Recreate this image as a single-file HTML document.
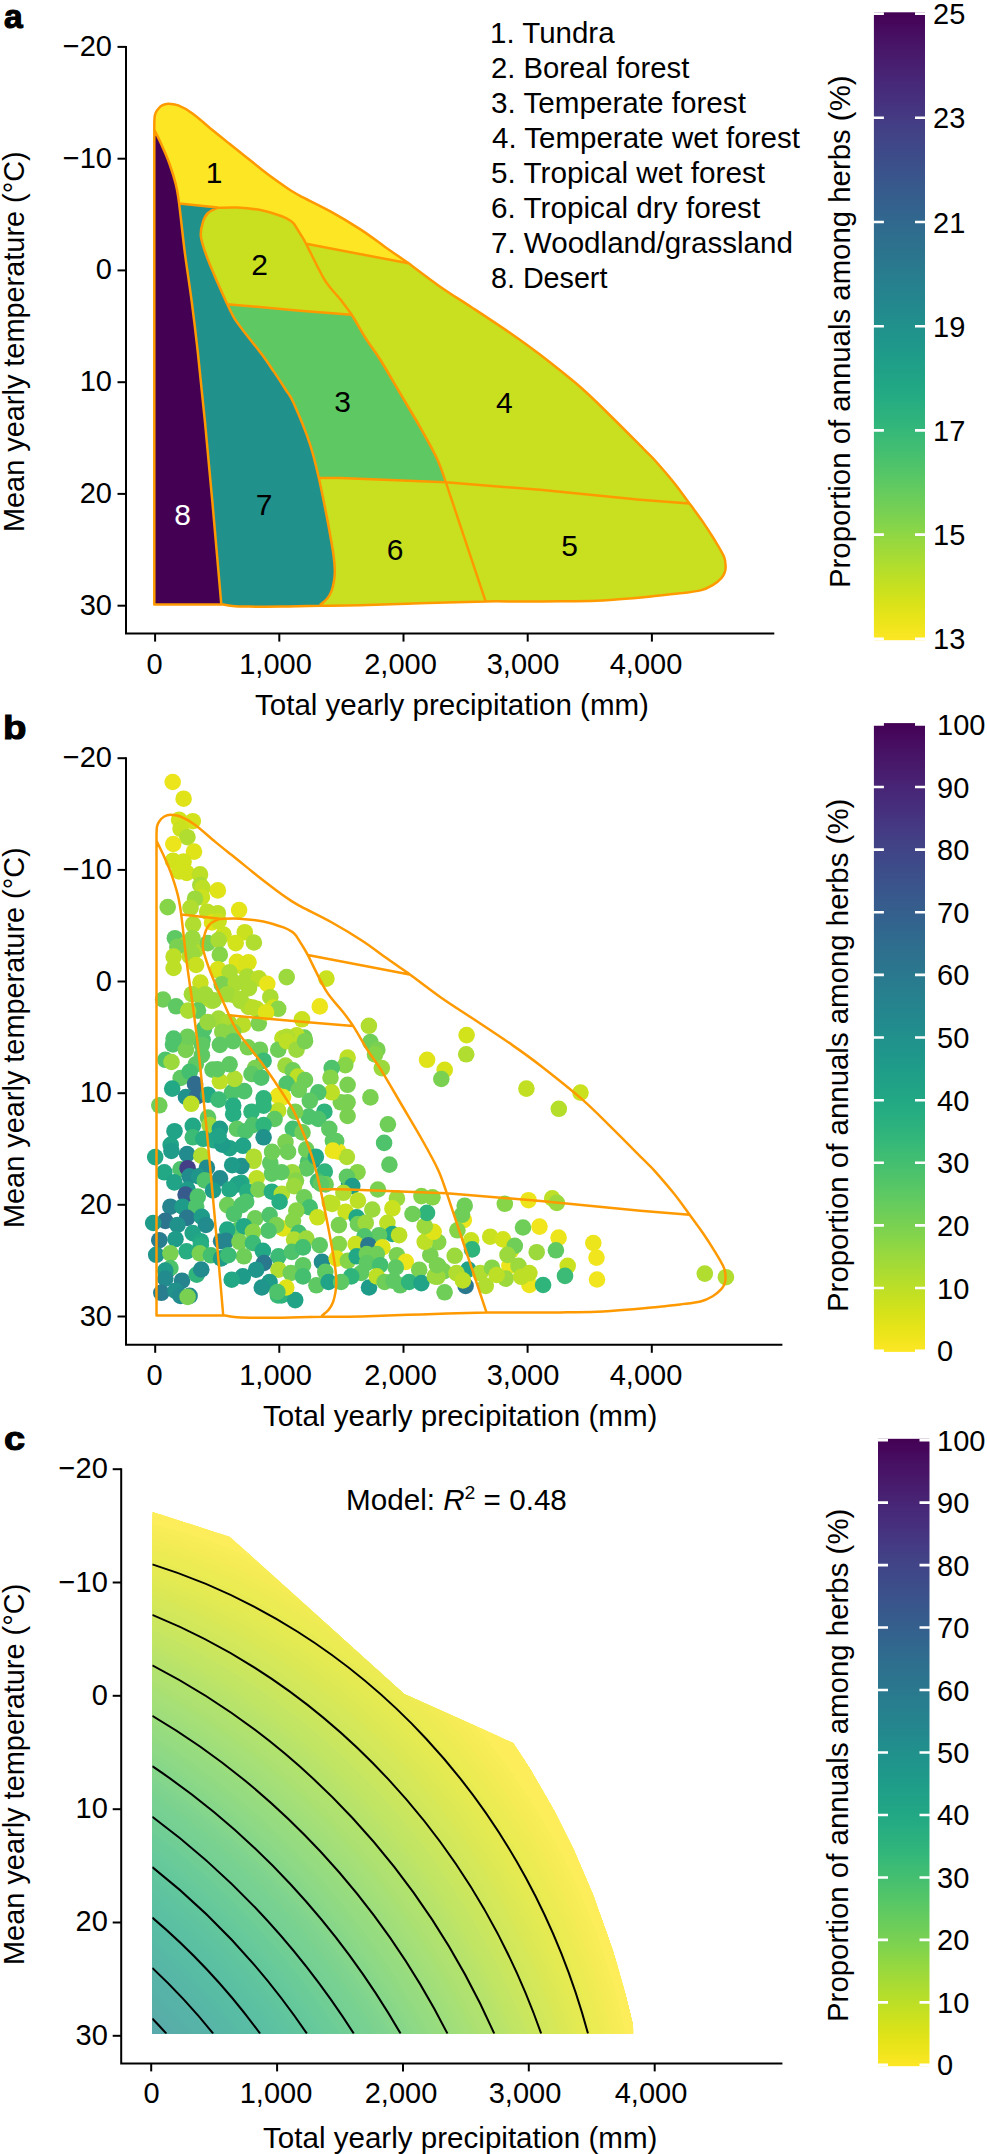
<!DOCTYPE html><html><head><meta charset="utf-8"><style>html,body{margin:0;padding:0;background:#fff;overflow:hidden;}svg{display:block}text{font-family:'Liberation Sans',sans-serif;fill:#000}</style></head><body>
<svg width="987" height="2154" viewBox="0 0 987 2154">
<rect width="987" height="2154" fill="#fff"/>
<g id="pa">
<path d="M154.3 123C154.4 121.8 154.4 117.6 154.8 115.5C155.2 113.4 155.8 112.1 157 110.4C158.2 108.7 160.2 106.5 162.1 105.4C164 104.3 165.5 103.7 168.2 103.7C170.9 103.7 174.2 103.8 178.3 105.4C182.4 107 186.7 109.3 192.5 113.5C198.3 117.7 206.9 125.5 213 130.5C219.1 135.5 223.8 139.2 229.2 143.5C234.6 147.8 240 152.2 245.4 156.5C250.8 160.8 256.2 165.2 261.6 169.4C267 173.6 273.1 178.2 277.8 181.6C282.5 185 286.3 187.6 290 190C293.7 192.4 293.3 192.2 300 195.8C306.7 199.4 320.3 205.8 330.4 211.4C340.5 217 351.7 223.7 360.8 229.6C369.9 235.5 377.2 241.3 385.1 246.9C393 252.5 404.5 260.4 408.4 263.1C413.6 267 429.2 279 439.8 286.4C450.4 293.8 460.2 299.8 472.2 307.7C484.2 315.6 500.2 326.1 511.6 334C523 341.9 529 346.1 540.6 355.1C552.2 364.1 569.5 377.7 581.4 388C593.2 398.3 601.4 406.9 611.7 417C622 427.1 636.1 441.4 643.3 448.6C650.4 455.8 649.5 454.3 654.6 460C659.7 465.7 668.2 475.5 674 482.7C679.8 489.9 684.5 496.8 689.4 503.4C694.3 510 699 516.3 703.2 522.4C707.4 528.5 711.1 534.3 714.6 540C718.1 545.7 722.2 552.3 724 556.7C725.8 561.1 725.5 563.9 725.6 566.5C725.7 569.1 725.5 570.2 724.8 572.1C724.1 574 723.6 575.6 721.6 577.8C719.6 580 716.2 583 712.7 585.1C709.2 587.2 706 589 700.5 590.4C695 591.8 687.2 592.4 680 593.3C672.8 594.2 665.1 595 657.3 595.8C649.5 596.6 643.1 597.4 633 598.2C622.9 599 608.7 600.2 596.5 600.7C584.3 601.2 572.8 601.2 560 601.3C547.2 601.4 532.4 601.5 520 601.5C507.6 601.5 502.3 601.1 485.6 601.4C468.9 601.7 440.9 602.6 420 603.3C399.1 603.9 376.7 604.9 360 605.3C343.3 605.7 326.7 605.6 320 605.7C313.5 605.9 292.9 606.5 281 606.6C269.1 606.8 256.7 606.7 248.6 606.6C240.5 606.5 236.6 606.4 232.4 606C228.2 605.6 225 604.8 223.5 604.5L221.3 604.4 L154.3 604.4 Z" fill="#c8e020"/><path d="M154.3 123C154.4 121.8 154.4 117.6 154.8 115.5C155.2 113.4 155.8 112.1 157 110.4C158.2 108.7 160.2 106.5 162.1 105.4C164 104.3 165.5 103.7 168.2 103.7C170.9 103.7 174.2 103.8 178.3 105.4C182.4 107 186.7 109.3 192.5 113.5C198.3 117.7 206.9 125.5 213 130.5C219.1 135.5 223.8 139.2 229.2 143.5C234.6 147.8 240 152.2 245.4 156.5C250.8 160.8 256.2 165.2 261.6 169.4C267 173.6 273.1 178.2 277.8 181.6C282.5 185 286.3 187.6 290 190C293.7 192.4 293.3 192.2 300 195.8C306.7 199.4 320.3 205.8 330.4 211.4C340.5 217 351.7 223.7 360.8 229.6C369.9 235.5 377.2 241.3 385.1 246.9C393 252.5 404.5 260.4 408.4 263.1L306.1 243.8C305.1 242.1 302 236.8 300.1 233.6C298.2 230.4 295.4 226 294.5 224.5C293.8 223.9 292.6 222.2 290.5 220.8C288.4 219.4 286.6 218.1 281.8 216.3C277 214.6 269 211.8 261.6 210.3C254.2 208.9 244.6 208 237.3 207.6C230 207.2 221.1 207.8 217.8 207.8L179.2 203.5C178.4 198.8 177.3 190.5 175.7 184C174.1 177.5 171.6 169.8 169.2 163C166.8 156.2 163.5 149.1 161 143.5C158.5 137.9 155.4 132 154.3 129.7Z" fill="#fde725"/><path d="M154.3 129.7C155.4 132 158.5 137.9 161 143.5C163.5 149.1 166.8 156.2 169.2 163C171.6 169.8 174.1 177.5 175.7 184C177.3 190.5 177.4 190.7 178.9 201.8C180.4 212.9 182.5 234.2 184.6 250.8C186.7 267.4 189.5 284.5 191.7 301.4C193.9 318.3 195.6 332.2 197.8 352.1C200 372.1 202.5 396.1 204.9 421.1C207.3 446.1 209.7 471.6 212.4 502.1C215.1 532.6 219.8 587.4 221.3 604.4L154.3 604.4 Z" fill="#440154"/><path d="M179.2 203.5 L217.8 207.6C216.2 208.5 210.5 210.6 208 213C205.5 215.4 204.2 218.1 203 222C201.8 225.9 200.2 230.8 200.9 236.6C201.6 242.4 204.2 249.5 206.9 256.9C209.6 264.3 213.6 273.4 217 281.2C220.4 289 225.4 300 227.1 303.8C228.4 306.4 231.8 314.4 235.2 319.7C238.6 325 243 330.2 247.4 335.9C251.8 341.6 257.2 348.2 261.6 354.1C266 360 269.6 365.4 273.7 371.4C277.8 377.4 282.6 384.8 285.9 390C289.2 395.2 289.5 393.9 293.5 402.8C297.5 411.7 305.5 430.8 309.7 443.3C313.9 455.8 315.8 464.6 318.8 477.8C321.8 491 325.4 509.5 327.9 522.4C330.3 535.3 332.4 547.1 333.5 555C334.6 562.9 334.7 565.7 334.8 570C334.9 574.3 334.6 577.5 334 581C333.4 584.5 332.7 588.1 331.5 591.1C330.3 594.1 328.9 596.5 327 598.8C325.1 601.1 321.2 604 320 605C313.5 605.3 292.9 606.3 281 606.6C269.1 606.9 256.7 606.7 248.6 606.6C240.5 606.5 236.6 606.4 232.4 606C228.2 605.6 225 604.8 223.5 604.5L221.3 604.4C219.8 587.4 215.1 532.6 212.4 502.1C209.7 471.6 207.3 446.1 204.9 421.1C202.5 396.1 200 372.1 197.8 352.1C195.6 332.2 193.9 318.3 191.7 301.4C189.5 284.5 186.7 267.4 184.6 250.8C182.5 234.2 179.8 210 178.9 201.8Z" fill="#21918c"/><path d="M227.1 304.2 L300 310.7 L351.7 314.8C354.2 319 362.1 332.6 366.9 340.1C371.7 347.6 374.9 350.9 380.5 360C386.1 369.1 394 382.9 400.8 394.4C407.6 405.9 415 418.1 421.1 428.9C427.2 439.7 433.2 450.4 437.3 459.3C441.4 468.2 444.4 478.4 445.8 482.2L340 478.1 L318.8 477.8C317.3 472.1 313.9 455.8 309.7 443.3C305.5 430.8 297.5 411.7 293.5 402.8C289.5 393.9 289.2 395.2 285.9 390C282.6 384.8 277.8 377.4 273.7 371.4C269.6 365.4 266 360 261.6 354.1C257.2 348.2 251.8 341.6 247.4 335.9C243 330.2 238.6 325 235.2 319.7C231.8 314.4 228.4 306.4 227.1 303.8Z" fill="#5ec962"/>
<path d="M154.3 123C154.4 121.8 154.4 117.6 154.8 115.5C155.2 113.4 155.8 112.1 157 110.4C158.2 108.7 160.2 106.5 162.1 105.4C164 104.3 165.5 103.7 168.2 103.7C170.9 103.7 174.2 103.8 178.3 105.4C182.4 107 186.7 109.3 192.5 113.5C198.3 117.7 206.9 125.5 213 130.5C219.1 135.5 223.8 139.2 229.2 143.5C234.6 147.8 240 152.2 245.4 156.5C250.8 160.8 256.2 165.2 261.6 169.4C267 173.6 273.1 178.2 277.8 181.6C282.5 185 286.3 187.6 290 190C293.7 192.4 293.3 192.2 300 195.8C306.7 199.4 320.3 205.8 330.4 211.4C340.5 217 351.7 223.7 360.8 229.6C369.9 235.5 377.2 241.3 385.1 246.9C393 252.5 404.5 260.4 408.4 263.1C413.6 267 429.2 279 439.8 286.4C450.4 293.8 460.2 299.8 472.2 307.7C484.2 315.6 500.2 326.1 511.6 334C523 341.9 529 346.1 540.6 355.1C552.2 364.1 569.5 377.7 581.4 388C593.2 398.3 601.4 406.9 611.7 417C622 427.1 636.1 441.4 643.3 448.6C650.4 455.8 649.5 454.3 654.6 460C659.7 465.7 668.2 475.5 674 482.7C679.8 489.9 684.5 496.8 689.4 503.4C694.3 510 699 516.3 703.2 522.4C707.4 528.5 711.1 534.3 714.6 540C718.1 545.7 722.2 552.3 724 556.7C725.8 561.1 725.5 563.9 725.6 566.5C725.7 569.1 725.5 570.2 724.8 572.1C724.1 574 723.6 575.6 721.6 577.8C719.6 580 716.2 583 712.7 585.1C709.2 587.2 706 589 700.5 590.4C695 591.8 687.2 592.4 680 593.3C672.8 594.2 665.1 595 657.3 595.8C649.5 596.6 643.1 597.4 633 598.2C622.9 599 608.7 600.2 596.5 600.7C584.3 601.2 572.8 601.2 560 601.3C547.2 601.4 532.4 601.5 520 601.5C507.6 601.5 502.3 601.1 485.6 601.4C468.9 601.7 440.9 602.6 420 603.3C399.1 603.9 376.7 604.9 360 605.3C343.3 605.7 326.7 605.6 320 605.7C313.5 605.9 292.9 606.5 281 606.6C269.1 606.8 256.7 606.7 248.6 606.6C240.5 606.5 236.6 606.4 232.4 606C228.2 605.6 225 604.8 223.5 604.5L221.3 604.4 L154.3 604.4 Z M154.3 129.7C155.4 132 158.5 137.9 161 143.5C163.5 149.1 166.8 156.2 169.2 163C171.6 169.8 174.1 177.5 175.7 184C177.3 190.5 177.4 190.7 178.9 201.8C180.4 212.9 182.5 234.2 184.6 250.8C186.7 267.4 189.5 284.5 191.7 301.4C193.9 318.3 195.6 332.2 197.8 352.1C200 372.1 202.5 396.1 204.9 421.1C207.3 446.1 209.7 471.6 212.4 502.1C215.1 532.6 219.8 587.4 221.3 604.4 M179.2 203.5 L217.8 207.6 M217.8 207.8C221.1 207.8 230 207.2 237.3 207.6C244.6 208 254.2 208.9 261.6 210.3C269 211.8 277 214.6 281.8 216.3C286.6 218.1 288.4 219.4 290.5 220.8C292.6 222.2 293.8 223.9 294.5 224.5C295.4 226 298.2 230.4 300.1 233.6C302 236.8 302.1 236.2 306.1 243.8C310.1 251.4 318.6 270 324.3 279.3C330 288.6 335.9 293.7 340.5 299.6C345.1 305.5 347.3 308.1 351.7 314.8C356.1 321.6 362.1 332.6 366.9 340.1C371.7 347.6 374.9 350.9 380.5 360C386.1 369.1 394 382.9 400.8 394.4C407.6 405.9 415 418.1 421.1 428.9C427.2 439.7 433.2 450.4 437.3 459.3C441.4 468.2 444.4 478.4 445.8 482.2 M445.8 482.2 L485.6 601.3 M217.8 207.6C216.2 208.5 210.5 210.6 208 213C205.5 215.4 204.2 218.1 203 222C201.8 225.9 200.2 230.8 200.9 236.6C201.6 242.4 204.2 249.5 206.9 256.9C209.6 264.3 213.6 273.4 217 281.2C220.4 289 225.4 300 227.1 303.8C228.4 306.4 231.8 314.4 235.2 319.7C238.6 325 243 330.2 247.4 335.9C251.8 341.6 257.2 348.2 261.6 354.1C266 360 269.6 365.4 273.7 371.4C277.8 377.4 282.6 384.8 285.9 390C289.2 395.2 289.5 393.9 293.5 402.8C297.5 411.7 305.5 430.8 309.7 443.3C313.9 455.8 315.8 464.6 318.8 477.8C321.8 491 325.4 509.5 327.9 522.4C330.3 535.3 332.4 547.1 333.5 555C334.6 562.9 334.7 565.7 334.8 570C334.9 574.3 334.6 577.5 334 581C333.4 584.5 332.7 588.1 331.5 591.1C330.3 594.1 328.9 596.5 327 598.8C325.1 601.1 321.2 604 320 605 M306.1 243.8 L408.4 263.3 M227.1 304.2 L300 310.7 L351.7 314.8 M318.8 477.8 L340 478.1 L445.8 482.2 L540 489.8 L640 499.7 L689.4 503.6" fill="none" stroke="#ff9900" stroke-width="2.5" stroke-linejoin="round"/>
</g>
<text x="214" y="183.2" font-size="30" text-anchor="middle" >1</text>
<text x="259.6" y="275" font-size="30" text-anchor="middle" >2</text>
<text x="342.6" y="412.4" font-size="30" text-anchor="middle" >3</text>
<text x="504.4" y="413" font-size="30" text-anchor="middle" >4</text>
<text x="569.6" y="556.1" font-size="30" text-anchor="middle" >5</text>
<text x="395" y="560" font-size="30" text-anchor="middle" >6</text>
<text x="264.1" y="515.3" font-size="30" text-anchor="middle" >7</text>
<text x="182.5" y="524.8" font-size="30" text-anchor="middle" style="fill:#fff">8</text>
<g><circle cx="202" cy="998.8" r="8.3" fill="#a2da37"/><circle cx="212" cy="1000.8" r="8.3" fill="#b0dd2f"/><circle cx="232.3" cy="994.7" r="8.3" fill="#b0dd2f"/><circle cx="240.4" cy="1000.8" r="8.3" fill="#a2da37"/><circle cx="248.5" cy="1006.9" r="8.3" fill="#b0dd2f"/><circle cx="256.6" cy="1008.9" r="8.3" fill="#bddf26"/><circle cx="220.1" cy="1021" r="8.3" fill="#9bd93c"/><circle cx="228.2" cy="1023.1" r="8.3" fill="#a2da37"/><circle cx="224.2" cy="988.6" r="8.3" fill="#b0dd2f"/><circle cx="242.4" cy="966.3" r="8.3" fill="#cae11f"/><circle cx="248.5" cy="962.3" r="8.3" fill="#dfe318"/><circle cx="195.8" cy="950.1" r="8.3" fill="#b0dd2f"/><circle cx="189.7" cy="956.2" r="8.3" fill="#bddf26"/><circle cx="218.1" cy="970.4" r="8.3" fill="#cae11f"/><circle cx="230.2" cy="978.5" r="8.3" fill="#b0dd2f"/><circle cx="463.8" cy="1220.2" r="8.3" fill="#ece51b"/><circle cx="471.1" cy="1240.3" r="8.3" fill="#cae11f"/><circle cx="511.2" cy="1250.3" r="8.3" fill="#dfe318"/><circle cx="465.6" cy="1285.9" r="8.3" fill="#2a788e"/><circle cx="529.4" cy="1285" r="8.3" fill="#ece51b"/><circle cx="509.4" cy="1265.8" r="8.3" fill="#ece51b"/><circle cx="172.7" cy="782" r="8.3" fill="#ece51b"/><circle cx="183.6" cy="798.7" r="8.3" fill="#dfe318"/><circle cx="179.1" cy="819.7" r="8.3" fill="#d2e21b"/><circle cx="192.8" cy="821.2" r="8.3" fill="#d2e21b"/><circle cx="180.6" cy="828.8" r="8.3" fill="#cae11f"/><circle cx="187.4" cy="837.2" r="8.3" fill="#b0dd2f"/><circle cx="173.3" cy="844" r="8.3" fill="#ece51b"/><circle cx="194" cy="851.6" r="8.3" fill="#dfe318"/><circle cx="173" cy="860.7" r="8.3" fill="#d2e21b"/><circle cx="183.6" cy="861.5" r="8.3" fill="#d2e21b"/><circle cx="179.1" cy="871.4" r="8.3" fill="#d2e21b"/><circle cx="186.7" cy="872.9" r="8.3" fill="#d2e21b"/><circle cx="200" cy="874.4" r="8.3" fill="#bddf26"/><circle cx="200.3" cy="885" r="8.3" fill="#a8db34"/><circle cx="202.6" cy="888.1" r="8.3" fill="#bddf26"/><circle cx="217.8" cy="890.4" r="8.3" fill="#dfe318"/><circle cx="201.9" cy="897.2" r="8.3" fill="#cae11f"/><circle cx="195" cy="898.7" r="8.3" fill="#9bd93c"/><circle cx="167.7" cy="907.1" r="8.3" fill="#86d549"/><circle cx="190.5" cy="907.9" r="8.3" fill="#b0dd2f"/><circle cx="207.2" cy="911.7" r="8.3" fill="#bddf26"/><circle cx="217.8" cy="913.2" r="8.3" fill="#bddf26"/><circle cx="239.1" cy="910.1" r="8.3" fill="#e5e419"/><circle cx="163.1" cy="999.5" r="8.3" fill="#6ece58"/><circle cx="202.6" cy="1039.8" r="8.3" fill="#4ec36b"/><circle cx="186.7" cy="1040.6" r="8.3" fill="#7ad151"/><circle cx="173" cy="1044.4" r="8.3" fill="#4ec36b"/><circle cx="282.4" cy="1038.3" r="8.3" fill="#bddf26"/><circle cx="326.4" cy="978.6" r="8.3" fill="#cae11f"/><circle cx="319.8" cy="1006.4" r="8.3" fill="#ece51b"/><circle cx="302" cy="1019.3" r="8.3" fill="#cae11f"/><circle cx="304.3" cy="1037.5" r="8.3" fill="#6ece58"/><circle cx="296.7" cy="1035.3" r="8.3" fill="#bddf26"/><circle cx="285.8" cy="1038.3" r="8.3" fill="#cae11f"/><circle cx="368.9" cy="1025.8" r="8.3" fill="#b0dd2f"/><circle cx="370.4" cy="1042.1" r="8.3" fill="#6ece58"/><circle cx="377.3" cy="1049.7" r="8.3" fill="#7ad151"/><circle cx="466.6" cy="1035.1" r="8.3" fill="#d2e21b"/><circle cx="466.2" cy="1054.3" r="8.3" fill="#b0dd2f"/><circle cx="427.1" cy="1059.8" r="8.3" fill="#dfe318"/><circle cx="444.7" cy="1069.9" r="8.3" fill="#d8e219"/><circle cx="441.3" cy="1079" r="8.3" fill="#7ad151"/><circle cx="526.4" cy="1088.6" r="8.3" fill="#c2df23"/><circle cx="580.5" cy="1092.6" r="8.3" fill="#cae11f"/><circle cx="558.8" cy="1108.8" r="8.3" fill="#b5de2b"/><circle cx="185.9" cy="1049.9" r="8.3" fill="#7ad151"/><circle cx="201.9" cy="1044.6" r="8.3" fill="#5ec962"/><circle cx="165.4" cy="1059.8" r="8.3" fill="#4ec36b"/><circle cx="171.5" cy="1062" r="8.3" fill="#9bd93c"/><circle cx="195.8" cy="1064.3" r="8.3" fill="#5ec962"/><circle cx="201.9" cy="1055.2" r="8.3" fill="#5ec962"/><circle cx="212.5" cy="1069.6" r="8.3" fill="#5ec962"/><circle cx="180.6" cy="1078" r="8.3" fill="#5ec962"/><circle cx="189.7" cy="1071.9" r="8.3" fill="#44bf70"/><circle cx="195" cy="1084.1" r="8.3" fill="#2f6c8e"/><circle cx="172.2" cy="1088.6" r="8.3" fill="#22a884"/><circle cx="185.9" cy="1097" r="8.3" fill="#21918c"/><circle cx="197.3" cy="1096.2" r="8.3" fill="#2f6c8e"/><circle cx="191.2" cy="1103.8" r="8.3" fill="#bddf26"/><circle cx="159.3" cy="1105.3" r="8.3" fill="#6ece58"/><circle cx="208" cy="1094.7" r="8.3" fill="#22a884"/><circle cx="208" cy="1117.5" r="8.3" fill="#5ec962"/><circle cx="209.5" cy="1125.1" r="8.3" fill="#9bd93c"/><circle cx="192.8" cy="1125.9" r="8.3" fill="#22a884"/><circle cx="174.5" cy="1131.2" r="8.3" fill="#20a386"/><circle cx="192.8" cy="1137.3" r="8.3" fill="#3bbb75"/><circle cx="203.4" cy="1138.8" r="8.3" fill="#26ad81"/><circle cx="214" cy="1140.3" r="8.3" fill="#22a884"/><circle cx="170.7" cy="1144.9" r="8.3" fill="#20a386"/><circle cx="253.5" cy="1160.8" r="8.3" fill="#b0dd2f"/><circle cx="241.4" cy="1166.1" r="8.3" fill="#21918c"/><circle cx="270.3" cy="1163.1" r="8.3" fill="#5ec962"/><circle cx="271.8" cy="1173.7" r="8.3" fill="#5ec962"/><circle cx="256.6" cy="1178.3" r="8.3" fill="#bddf26"/><circle cx="241.4" cy="1182.9" r="8.3" fill="#22a884"/><circle cx="375" cy="1054.4" r="8.3" fill="#86d549"/><circle cx="381.8" cy="1068.1" r="8.3" fill="#9bd93c"/><circle cx="347.6" cy="1057.5" r="8.3" fill="#bddf26"/><circle cx="345.3" cy="1065.1" r="8.3" fill="#86d549"/><circle cx="347.6" cy="1084.8" r="8.3" fill="#7ad151"/><circle cx="340.8" cy="1102.3" r="8.3" fill="#7ad151"/><circle cx="347.6" cy="1102.3" r="8.3" fill="#7ad151"/><circle cx="347.6" cy="1116" r="8.3" fill="#7ad151"/><circle cx="370.4" cy="1097.4" r="8.3" fill="#7ad151"/><circle cx="387.9" cy="1124.3" r="8.3" fill="#6ece58"/><circle cx="384.1" cy="1142.9" r="8.3" fill="#4ec36b"/><circle cx="389.4" cy="1164.6" r="8.3" fill="#5ec962"/><circle cx="336.2" cy="1141.1" r="8.3" fill="#5ec962"/><circle cx="338.5" cy="1151.7" r="8.3" fill="#ece51b"/><circle cx="346.9" cy="1157" r="8.3" fill="#b0dd2f"/><circle cx="312.7" cy="1160.8" r="8.3" fill="#21918c"/><circle cx="308.1" cy="1161.6" r="8.3" fill="#4ec36b"/><circle cx="306.6" cy="1168.4" r="8.3" fill="#5ec962"/><circle cx="324.8" cy="1171.5" r="8.3" fill="#2fb47c"/><circle cx="292.2" cy="1172.2" r="8.3" fill="#9bd93c"/><circle cx="296" cy="1180.6" r="8.3" fill="#86d549"/><circle cx="281.5" cy="1172.2" r="8.3" fill="#5ec962"/><circle cx="318" cy="1181.3" r="8.3" fill="#44bf70"/><circle cx="325.6" cy="1184.4" r="8.3" fill="#6ece58"/><circle cx="357.5" cy="1172.2" r="8.3" fill="#86d549"/><circle cx="349.1" cy="1183.6" r="8.3" fill="#21918c"/><circle cx="346.9" cy="1176.8" r="8.3" fill="#5ec962"/><circle cx="464.7" cy="1205.7" r="8.3" fill="#6ece58"/><circle cx="462" cy="1214.8" r="8.3" fill="#6ece58"/><circle cx="457.4" cy="1230.3" r="8.3" fill="#86d549"/><circle cx="504.8" cy="1203.8" r="8.3" fill="#86d549"/><circle cx="528.5" cy="1200.2" r="8.3" fill="#ece51b"/><circle cx="552.2" cy="1198.4" r="8.3" fill="#bddf26"/><circle cx="556.8" cy="1202.9" r="8.3" fill="#9bd93c"/><circle cx="523" cy="1227.5" r="8.3" fill="#6ece58"/><circle cx="539.5" cy="1226.6" r="8.3" fill="#f1e51d"/><circle cx="558.6" cy="1237.6" r="8.3" fill="#ece51b"/><circle cx="593.3" cy="1243" r="8.3" fill="#ece51b"/><circle cx="596.5" cy="1257.6" r="8.3" fill="#f1e51d"/><circle cx="597" cy="1279.5" r="8.3" fill="#f1e51d"/><circle cx="438.2" cy="1242.1" r="8.3" fill="#86d549"/><circle cx="472" cy="1249.4" r="8.3" fill="#2fb47c"/><circle cx="490.2" cy="1236.7" r="8.3" fill="#cae11f"/><circle cx="503" cy="1239.4" r="8.3" fill="#d2e21b"/><circle cx="514.8" cy="1245.8" r="8.3" fill="#6ece58"/><circle cx="507.5" cy="1254.9" r="8.3" fill="#9bd93c"/><circle cx="536.7" cy="1252.2" r="8.3" fill="#9bd93c"/><circle cx="555.9" cy="1250.3" r="8.3" fill="#5ec962"/><circle cx="567.7" cy="1265.8" r="8.3" fill="#cae11f"/><circle cx="565" cy="1275.9" r="8.3" fill="#3bbb75"/><circle cx="454.7" cy="1255.8" r="8.3" fill="#9bd93c"/><circle cx="468.3" cy="1269.5" r="8.3" fill="#20a386"/><circle cx="438.2" cy="1265.8" r="8.3" fill="#6ece58"/><circle cx="443.7" cy="1271.3" r="8.3" fill="#7ad151"/><circle cx="437.3" cy="1276.8" r="8.3" fill="#9bd93c"/><circle cx="444.6" cy="1292.3" r="8.3" fill="#6ece58"/><circle cx="456.5" cy="1273.1" r="8.3" fill="#b0dd2f"/><circle cx="462.9" cy="1280.4" r="8.3" fill="#bddf26"/><circle cx="480.2" cy="1273.1" r="8.3" fill="#b0dd2f"/><circle cx="485.7" cy="1285.9" r="8.3" fill="#b0dd2f"/><circle cx="492" cy="1267.7" r="8.3" fill="#86d549"/><circle cx="505.7" cy="1278.6" r="8.3" fill="#9bd93c"/><circle cx="518.5" cy="1265.8" r="8.3" fill="#9bd93c"/><circle cx="529.4" cy="1273.1" r="8.3" fill="#bddf26"/><circle cx="521.2" cy="1276.8" r="8.3" fill="#bddf26"/><circle cx="543.1" cy="1285" r="8.3" fill="#2fb47c"/><circle cx="496.6" cy="1275" r="8.3" fill="#bddf26"/><circle cx="704.8" cy="1273.6" r="8.3" fill="#b0dd2f"/><circle cx="725.9" cy="1277.2" r="8.3" fill="#b0dd2f"/><circle cx="277.9" cy="1295.5" r="8.3" fill="#3bbb75"/><circle cx="321" cy="1183.8" r="8.3" fill="#5ec962"/><circle cx="281.5" cy="1295.5" r="8.3" fill="#2fb47c"/><circle cx="295.2" cy="1300.1" r="8.3" fill="#20a386"/><circle cx="193.1" cy="924.3" r="8.3" fill="#b0dd2f"/><circle cx="212" cy="922.4" r="8.3" fill="#dfe318"/><circle cx="218.6" cy="921.2" r="8.3" fill="#cae11f"/><circle cx="244.8" cy="932.2" r="8.3" fill="#cae11f"/><circle cx="223.5" cy="934.6" r="8.3" fill="#cae11f"/><circle cx="235.7" cy="943.1" r="8.3" fill="#d2e21b"/><circle cx="253.9" cy="942.5" r="8.3" fill="#b0dd2f"/><circle cx="174.9" cy="938.2" r="8.3" fill="#5ec962"/><circle cx="192.5" cy="938.2" r="8.3" fill="#9bd93c"/><circle cx="207.7" cy="943.1" r="8.3" fill="#7ad151"/><circle cx="218.6" cy="940.1" r="8.3" fill="#a8db34"/><circle cx="185.8" cy="944.3" r="8.3" fill="#9bd93c"/><circle cx="177.3" cy="946.7" r="8.3" fill="#7ad151"/><circle cx="191.9" cy="953.4" r="8.3" fill="#9bd93c"/><circle cx="219.8" cy="954.7" r="8.3" fill="#86d549"/><circle cx="173.6" cy="956.5" r="8.3" fill="#bddf26"/><circle cx="173.6" cy="968" r="8.3" fill="#bddf26"/><circle cx="196.1" cy="965" r="8.3" fill="#c8e020"/><circle cx="236.9" cy="961.9" r="8.3" fill="#dfe318"/><circle cx="246" cy="963.8" r="8.3" fill="#dae319"/><circle cx="218" cy="969.2" r="8.3" fill="#dae319"/><circle cx="229.6" cy="972.3" r="8.3" fill="#aadc32"/><circle cx="247.2" cy="976.5" r="8.3" fill="#aadc32"/><circle cx="258.8" cy="978.4" r="8.3" fill="#bade28"/><circle cx="267.3" cy="983.8" r="8.3" fill="#eae51a"/><circle cx="286.7" cy="977.1" r="8.3" fill="#9bd93c"/><circle cx="200.4" cy="982.6" r="8.3" fill="#c8e020"/><circle cx="221.7" cy="984.4" r="8.3" fill="#7cd250"/><circle cx="235.7" cy="983.2" r="8.3" fill="#aadc32"/><circle cx="249" cy="988.1" r="8.3" fill="#aadc32"/><circle cx="270.3" cy="997.2" r="8.3" fill="#aadc32"/><circle cx="191.9" cy="994.2" r="8.3" fill="#a2da37"/><circle cx="205.3" cy="994.2" r="8.3" fill="#a2da37"/><circle cx="213.8" cy="1000.2" r="8.3" fill="#a2da37"/><circle cx="227.1" cy="994.2" r="8.3" fill="#a2da37"/><circle cx="240.5" cy="999" r="8.3" fill="#aadc32"/><circle cx="252.7" cy="1007.5" r="8.3" fill="#bade28"/><circle cx="273.3" cy="1007.5" r="8.3" fill="#d2e21b"/><circle cx="278.2" cy="1008.8" r="8.3" fill="#8bd646"/><circle cx="176.1" cy="1006.3" r="8.3" fill="#5ec962"/><circle cx="198" cy="1010.6" r="8.3" fill="#60ca60"/><circle cx="188.2" cy="1010.6" r="8.3" fill="#aadc32"/><circle cx="218.6" cy="1018.5" r="8.3" fill="#a2da37"/><circle cx="228.4" cy="1022.1" r="8.3" fill="#aadc32"/><circle cx="243" cy="1024.6" r="8.3" fill="#bade28"/><circle cx="258.8" cy="1023.3" r="8.3" fill="#7cd250"/><circle cx="266" cy="1012.4" r="8.3" fill="#dfe318"/><circle cx="204" cy="1028.8" r="8.3" fill="#4ec36b"/><circle cx="207.7" cy="1022.1" r="8.3" fill="#98d83e"/><circle cx="222.3" cy="1031.9" r="8.3" fill="#8bd646"/><circle cx="233.2" cy="1031.9" r="8.3" fill="#8bd646"/><circle cx="187.6" cy="1036.7" r="8.3" fill="#6ece58"/><circle cx="173.6" cy="1038.5" r="8.3" fill="#4ec36b"/><circle cx="286.7" cy="1036.7" r="8.3" fill="#b0dd2f"/><circle cx="155.2" cy="1157.1" r="8.3" fill="#22a884"/><circle cx="171.4" cy="1151" r="8.3" fill="#1e9c89"/><circle cx="187.1" cy="1154.1" r="8.3" fill="#228b8d"/><circle cx="201.3" cy="1155.6" r="8.3" fill="#b0dd2f"/><circle cx="180.5" cy="1169.3" r="8.3" fill="#4ec36b"/><circle cx="187.6" cy="1168.2" r="8.3" fill="#433e85"/><circle cx="206.9" cy="1167.7" r="8.3" fill="#228b8d"/><circle cx="164.3" cy="1172.3" r="8.3" fill="#22a884"/><circle cx="189.6" cy="1176.3" r="8.3" fill="#228b8d"/><circle cx="198.8" cy="1176.3" r="8.3" fill="#1f958b"/><circle cx="204.8" cy="1180.4" r="8.3" fill="#4ec36b"/><circle cx="220" cy="1178.4" r="8.3" fill="#228b8d"/><circle cx="174.4" cy="1182.4" r="8.3" fill="#20a386"/><circle cx="187.6" cy="1189.5" r="8.3" fill="#1e9c89"/><circle cx="185.6" cy="1194.6" r="8.3" fill="#375a8c"/><circle cx="213" cy="1190.5" r="8.3" fill="#1e9c89"/><circle cx="197.8" cy="1196.6" r="8.3" fill="#4ec36b"/><circle cx="232.2" cy="1165.2" r="8.3" fill="#1e9c89"/><circle cx="170.4" cy="1206.7" r="8.3" fill="#25848e"/><circle cx="182.6" cy="1206.7" r="8.3" fill="#1e9c89"/><circle cx="196.2" cy="1206.7" r="8.3" fill="#4ec36b"/><circle cx="165.3" cy="1220.9" r="8.3" fill="#2c738e"/><circle cx="153.2" cy="1223" r="8.3" fill="#1e9c89"/><circle cx="187.1" cy="1217.9" r="8.3" fill="#2a788e"/><circle cx="201.8" cy="1216.9" r="8.3" fill="#1e9c89"/><circle cx="205.9" cy="1225" r="8.3" fill="#228b8d"/><circle cx="177.5" cy="1225" r="8.3" fill="#21918c"/><circle cx="192.7" cy="1233.1" r="8.3" fill="#20a386"/><circle cx="175.5" cy="1239.2" r="8.3" fill="#1e9c89"/><circle cx="159.3" cy="1240.2" r="8.3" fill="#287d8e"/><circle cx="221.1" cy="1241.2" r="8.3" fill="#25848e"/><circle cx="200.8" cy="1241.2" r="8.3" fill="#22a884"/><circle cx="237.3" cy="1184.4" r="8.3" fill="#20a386"/><circle cx="156.2" cy="1254.8" r="8.3" fill="#1f958b"/><circle cx="170.4" cy="1253.3" r="8.3" fill="#7ad151"/><circle cx="186.6" cy="1251.3" r="8.3" fill="#26ad81"/><circle cx="200.8" cy="1245.2" r="8.3" fill="#26ad81"/><circle cx="199.8" cy="1253.3" r="8.3" fill="#7ad151"/><circle cx="210.9" cy="1255.3" r="8.3" fill="#44bf70"/><circle cx="221.1" cy="1258.4" r="8.3" fill="#1e9c89"/><circle cx="167.4" cy="1270.5" r="8.3" fill="#375a8c"/><circle cx="170.4" cy="1268" r="8.3" fill="#4ec36b"/><circle cx="165.3" cy="1270.5" r="8.3" fill="#1e9c89"/><circle cx="165.3" cy="1278.6" r="8.3" fill="#228b8d"/><circle cx="182" cy="1280.7" r="8.3" fill="#25848e"/><circle cx="196.7" cy="1274.6" r="8.3" fill="#2fb47c"/><circle cx="201.3" cy="1269.5" r="8.3" fill="#228b8d"/><circle cx="161.3" cy="1292.8" r="8.3" fill="#287d8e"/><circle cx="175.5" cy="1290.8" r="8.3" fill="#21918c"/><circle cx="189.6" cy="1295.9" r="8.3" fill="#228b8d"/><circle cx="180.5" cy="1295.9" r="8.3" fill="#228b8d"/><circle cx="187.6" cy="1296.9" r="8.3" fill="#7ad151"/><circle cx="229.5" cy="1189.5" r="8.3" fill="#22a884"/><circle cx="247.3" cy="1191.7" r="8.3" fill="#26ad81"/><circle cx="258.4" cy="1189.5" r="8.3" fill="#7ad151"/><circle cx="271.8" cy="1191.7" r="8.3" fill="#26ad81"/><circle cx="281.8" cy="1193.9" r="8.3" fill="#b0dd2f"/><circle cx="279.6" cy="1201.7" r="8.3" fill="#26ad81"/><circle cx="294.1" cy="1186.1" r="8.3" fill="#9bd93c"/><circle cx="246.2" cy="1201.7" r="8.3" fill="#4ec36b"/><circle cx="227.2" cy="1205.1" r="8.3" fill="#6ece58"/><circle cx="241.7" cy="1205.1" r="8.3" fill="#4ec36b"/><circle cx="304.1" cy="1197.3" r="8.3" fill="#6ece58"/><circle cx="309.7" cy="1207.3" r="8.3" fill="#44bf70"/><circle cx="329.8" cy="1202.8" r="8.3" fill="#bddf26"/><circle cx="296.3" cy="1210.6" r="8.3" fill="#86d549"/><circle cx="317.5" cy="1217.3" r="8.3" fill="#cae11f"/><circle cx="233.9" cy="1214" r="8.3" fill="#4ec36b"/><circle cx="255.1" cy="1218.4" r="8.3" fill="#6ece58"/><circle cx="269.6" cy="1215.1" r="8.3" fill="#4ec36b"/><circle cx="283" cy="1228.5" r="8.3" fill="#dfe318"/><circle cx="276.3" cy="1225.1" r="8.3" fill="#7ad151"/><circle cx="293" cy="1220.7" r="8.3" fill="#86d549"/><circle cx="298.6" cy="1232.9" r="8.3" fill="#44bf70"/><circle cx="268.5" cy="1230.7" r="8.3" fill="#4ec36b"/><circle cx="238.4" cy="1229.6" r="8.3" fill="#5ec962"/><circle cx="243.9" cy="1226.2" r="8.3" fill="#22a884"/><circle cx="252.9" cy="1231.8" r="8.3" fill="#86d549"/><circle cx="227.2" cy="1229.6" r="8.3" fill="#22a884"/><circle cx="226.1" cy="1240.7" r="8.3" fill="#25848e"/><circle cx="239.5" cy="1241.8" r="8.3" fill="#7ad151"/><circle cx="252.9" cy="1243" r="8.3" fill="#3bbb75"/><circle cx="294.1" cy="1239.6" r="8.3" fill="#b0dd2f"/><circle cx="306.4" cy="1238.5" r="8.3" fill="#9bd93c"/><circle cx="319.7" cy="1245.2" r="8.3" fill="#5ec962"/><circle cx="262.9" cy="1250.8" r="8.3" fill="#22a884"/><circle cx="278.5" cy="1256.3" r="8.3" fill="#3bbb75"/><circle cx="243.9" cy="1256.3" r="8.3" fill="#6ece58"/><circle cx="228.3" cy="1255.2" r="8.3" fill="#3bbb75"/><circle cx="291.9" cy="1251.9" r="8.3" fill="#4ec36b"/><circle cx="303" cy="1247.4" r="8.3" fill="#44bf70"/><circle cx="322" cy="1261.9" r="8.3" fill="#228b8d"/><circle cx="264" cy="1263" r="8.3" fill="#2a788e"/><circle cx="256.2" cy="1269.7" r="8.3" fill="#1f958b"/><circle cx="278.5" cy="1269.7" r="8.3" fill="#b0dd2f"/><circle cx="290.8" cy="1273" r="8.3" fill="#6ece58"/><circle cx="303" cy="1265.2" r="8.3" fill="#5ec962"/><circle cx="303" cy="1276.4" r="8.3" fill="#44bf70"/><circle cx="325.3" cy="1271.9" r="8.3" fill="#5ec962"/><circle cx="242.8" cy="1276.4" r="8.3" fill="#1e9c89"/><circle cx="231.7" cy="1279.7" r="8.3" fill="#22a884"/><circle cx="269.6" cy="1282" r="8.3" fill="#1e9c89"/><circle cx="261.8" cy="1287.5" r="8.3" fill="#1f958b"/><circle cx="286.3" cy="1287.5" r="8.3" fill="#dfe318"/><circle cx="277.4" cy="1292" r="8.3" fill="#4ec36b"/><circle cx="316.4" cy="1285.3" r="8.3" fill="#5ec962"/><circle cx="328.6" cy="1282" r="8.3" fill="#20a386"/><circle cx="352.3" cy="1186.1" r="8.3" fill="#1e9c89"/><circle cx="343.4" cy="1192.8" r="8.3" fill="#b0dd2f"/><circle cx="332.2" cy="1203.9" r="8.3" fill="#bddf26"/><circle cx="357.9" cy="1200.6" r="8.3" fill="#bddf26"/><circle cx="345.6" cy="1211.7" r="8.3" fill="#cae11f"/><circle cx="338.9" cy="1225.1" r="8.3" fill="#7ad151"/><circle cx="356.7" cy="1217.3" r="8.3" fill="#22a884"/><circle cx="357.9" cy="1224" r="8.3" fill="#6ece58"/><circle cx="365.7" cy="1222.9" r="8.3" fill="#9bd93c"/><circle cx="372.3" cy="1209.5" r="8.3" fill="#9bd93c"/><circle cx="377.9" cy="1189.5" r="8.3" fill="#7ad151"/><circle cx="396.9" cy="1198.4" r="8.3" fill="#9bd93c"/><circle cx="392.4" cy="1208.4" r="8.3" fill="#cae11f"/><circle cx="387.4" cy="1222.9" r="8.3" fill="#bddf26"/><circle cx="392.4" cy="1234" r="8.3" fill="#22a884"/><circle cx="399.1" cy="1235.2" r="8.3" fill="#bddf26"/><circle cx="379" cy="1235.2" r="8.3" fill="#5ec962"/><circle cx="364.5" cy="1236.3" r="8.3" fill="#4ec36b"/><circle cx="355.6" cy="1244.1" r="8.3" fill="#cae11f"/><circle cx="368.4" cy="1245.2" r="8.3" fill="#2a788e"/><circle cx="382.4" cy="1247.4" r="8.3" fill="#dfe318"/><circle cx="338.9" cy="1244.1" r="8.3" fill="#86d549"/><circle cx="336.7" cy="1258.6" r="8.3" fill="#dfe318"/><circle cx="347.8" cy="1260.8" r="8.3" fill="#86d549"/><circle cx="356.7" cy="1256.3" r="8.3" fill="#22a884"/><circle cx="366.8" cy="1254.1" r="8.3" fill="#6ece58"/><circle cx="376.8" cy="1254.1" r="8.3" fill="#6ece58"/><circle cx="366.8" cy="1263" r="8.3" fill="#5ec962"/><circle cx="380.2" cy="1265.2" r="8.3" fill="#44bf70"/><circle cx="396.9" cy="1255.2" r="8.3" fill="#7ad151"/><circle cx="405.8" cy="1261.9" r="8.3" fill="#ece51b"/><circle cx="395.8" cy="1267.5" r="8.3" fill="#5ec962"/><circle cx="419.2" cy="1269.7" r="8.3" fill="#7ad151"/><circle cx="430.3" cy="1255.2" r="8.3" fill="#7ad151"/><circle cx="424.7" cy="1241.8" r="8.3" fill="#bddf26"/><circle cx="433.6" cy="1231.8" r="8.3" fill="#dfe318"/><circle cx="424.7" cy="1226.2" r="8.3" fill="#9bd93c"/><circle cx="427" cy="1212.9" r="8.3" fill="#2fb47c"/><circle cx="412.5" cy="1214" r="8.3" fill="#6ece58"/><circle cx="421.4" cy="1196.1" r="8.3" fill="#86d549"/><circle cx="432.5" cy="1197.3" r="8.3" fill="#86d549"/><circle cx="361.2" cy="1273" r="8.3" fill="#5ec962"/><circle cx="351.2" cy="1276.4" r="8.3" fill="#2fb47c"/><circle cx="341.1" cy="1282" r="8.3" fill="#5ec962"/><circle cx="369" cy="1287.5" r="8.3" fill="#1e9c89"/><circle cx="376.8" cy="1276.4" r="8.3" fill="#bddf26"/><circle cx="384.6" cy="1282" r="8.3" fill="#6ece58"/><circle cx="393.5" cy="1280.8" r="8.3" fill="#5ec962"/><circle cx="400.2" cy="1285.3" r="8.3" fill="#5ec962"/><circle cx="409.1" cy="1282" r="8.3" fill="#2fb47c"/><circle cx="421.4" cy="1283.1" r="8.3" fill="#20a386"/><circle cx="434.8" cy="1276.4" r="8.3" fill="#9bd93c"/><circle cx="437" cy="1265.2" r="8.3" fill="#7ad151"/><circle cx="219.9" cy="1044.9" r="8.3" fill="#5ec962"/><circle cx="233.2" cy="1041.2" r="8.3" fill="#5ec962"/><circle cx="247.8" cy="1047.3" r="8.3" fill="#7ad151"/><circle cx="260" cy="1049.7" r="8.3" fill="#6ece58"/><circle cx="263.6" cy="1060.7" r="8.3" fill="#3bbb75"/><circle cx="255.1" cy="1068" r="8.3" fill="#7ad151"/><circle cx="251.5" cy="1074" r="8.3" fill="#5ec962"/><circle cx="261.2" cy="1077.7" r="8.3" fill="#4ec36b"/><circle cx="278.2" cy="1049.7" r="8.3" fill="#6ece58"/><circle cx="286.7" cy="1041.2" r="8.3" fill="#bddf26"/><circle cx="296.5" cy="1049.7" r="8.3" fill="#9bd93c"/><circle cx="305" cy="1041.2" r="8.3" fill="#7ad151"/><circle cx="285.5" cy="1065.5" r="8.3" fill="#9bd93c"/><circle cx="292.8" cy="1070.4" r="8.3" fill="#6ece58"/><circle cx="297.7" cy="1076.5" r="8.3" fill="#bddf26"/><circle cx="305" cy="1080.1" r="8.3" fill="#6ece58"/><circle cx="286.7" cy="1083.8" r="8.3" fill="#4ec36b"/><circle cx="298.9" cy="1089.8" r="8.3" fill="#6ece58"/><circle cx="331.7" cy="1068" r="8.3" fill="#4ec36b"/><circle cx="330.5" cy="1077.7" r="8.3" fill="#86d549"/><circle cx="331.7" cy="1092.3" r="8.3" fill="#bddf26"/><circle cx="318.3" cy="1092.3" r="8.3" fill="#4ec36b"/><circle cx="309.8" cy="1100.8" r="8.3" fill="#5ec962"/><circle cx="324.4" cy="1111.7" r="8.3" fill="#2fb47c"/><circle cx="318.3" cy="1119" r="8.3" fill="#4ec36b"/><circle cx="308.6" cy="1116.6" r="8.3" fill="#4ec36b"/><circle cx="295.2" cy="1111.7" r="8.3" fill="#7ad151"/><circle cx="278.2" cy="1095.9" r="8.3" fill="#ece51b"/><circle cx="283.1" cy="1097.1" r="8.3" fill="#ece51b"/><circle cx="278.2" cy="1110.5" r="8.3" fill="#bddf26"/><circle cx="274.6" cy="1119" r="8.3" fill="#5ec962"/><circle cx="263.6" cy="1098.4" r="8.3" fill="#2fb47c"/><circle cx="263.6" cy="1105.7" r="8.3" fill="#2fb47c"/><circle cx="251.5" cy="1111.7" r="8.3" fill="#2fb47c"/><circle cx="244.2" cy="1091.1" r="8.3" fill="#4ec36b"/><circle cx="232" cy="1092.3" r="8.3" fill="#4ec36b"/><circle cx="234.5" cy="1078.9" r="8.3" fill="#b0dd2f"/><circle cx="219.9" cy="1081.3" r="8.3" fill="#bddf26"/><circle cx="229.6" cy="1064.3" r="8.3" fill="#5ec962"/><circle cx="217.4" cy="1069.2" r="8.3" fill="#5ec962"/><circle cx="218.6" cy="1099.6" r="8.3" fill="#3bbb75"/><circle cx="233.2" cy="1105.7" r="8.3" fill="#26ad81"/><circle cx="233.2" cy="1114.2" r="8.3" fill="#26ad81"/><circle cx="236.9" cy="1128.8" r="8.3" fill="#5ec962"/><circle cx="245.4" cy="1131.2" r="8.3" fill="#4ec36b"/><circle cx="252.7" cy="1125.1" r="8.3" fill="#4ec36b"/><circle cx="263.6" cy="1125.1" r="8.3" fill="#2fb47c"/><circle cx="263.6" cy="1137.3" r="8.3" fill="#21918c"/><circle cx="219.9" cy="1128.8" r="8.3" fill="#1e9c89"/><circle cx="292.8" cy="1128.8" r="8.3" fill="#44bf70"/><circle cx="302.5" cy="1132.4" r="8.3" fill="#6ece58"/><circle cx="285.5" cy="1142.1" r="8.3" fill="#7ad151"/><circle cx="272.1" cy="1151.9" r="8.3" fill="#6ece58"/><circle cx="288" cy="1151.9" r="8.3" fill="#6ece58"/><circle cx="306.2" cy="1149.4" r="8.3" fill="#6ece58"/><circle cx="315.9" cy="1156.7" r="8.3" fill="#22a884"/><circle cx="329.3" cy="1128.8" r="8.3" fill="#5ec962"/><circle cx="332.9" cy="1140.9" r="8.3" fill="#5ec962"/><circle cx="332.9" cy="1150.6" r="8.3" fill="#ece51b"/><circle cx="229.6" cy="1148.2" r="8.3" fill="#20a386"/><circle cx="243" cy="1145.8" r="8.3" fill="#20a386"/><circle cx="222.3" cy="1144.6" r="8.3" fill="#1e9c89"/><circle cx="253.9" cy="1156.7" r="8.3" fill="#b0dd2f"/><circle cx="218.6" cy="1136" r="8.3" fill="#20a386"/></g>
<g transform="matrix(0.996,0,0,1,2.82,711.1)"><path d="M154.3 123C154.4 121.8 154.4 117.6 154.8 115.5C155.2 113.4 155.8 112.1 157 110.4C158.2 108.7 160.2 106.5 162.1 105.4C164 104.3 165.5 103.7 168.2 103.7C170.9 103.7 174.2 103.8 178.3 105.4C182.4 107 186.7 109.3 192.5 113.5C198.3 117.7 206.9 125.5 213 130.5C219.1 135.5 223.8 139.2 229.2 143.5C234.6 147.8 240 152.2 245.4 156.5C250.8 160.8 256.2 165.2 261.6 169.4C267 173.6 273.1 178.2 277.8 181.6C282.5 185 286.3 187.6 290 190C293.7 192.4 293.3 192.2 300 195.8C306.7 199.4 320.3 205.8 330.4 211.4C340.5 217 351.7 223.7 360.8 229.6C369.9 235.5 377.2 241.3 385.1 246.9C393 252.5 404.5 260.4 408.4 263.1C413.6 267 429.2 279 439.8 286.4C450.4 293.8 460.2 299.8 472.2 307.7C484.2 315.6 500.2 326.1 511.6 334C523 341.9 529 346.1 540.6 355.1C552.2 364.1 569.5 377.7 581.4 388C593.2 398.3 601.4 406.9 611.7 417C622 427.1 636.1 441.4 643.3 448.6C650.4 455.8 649.5 454.3 654.6 460C659.7 465.7 668.2 475.5 674 482.7C679.8 489.9 684.5 496.8 689.4 503.4C694.3 510 699 516.3 703.2 522.4C707.4 528.5 711.1 534.3 714.6 540C718.1 545.7 722.2 552.3 724 556.7C725.8 561.1 725.5 563.9 725.6 566.5C725.7 569.1 725.5 570.2 724.8 572.1C724.1 574 723.6 575.6 721.6 577.8C719.6 580 716.2 583 712.7 585.1C709.2 587.2 706 589 700.5 590.4C695 591.8 687.2 592.4 680 593.3C672.8 594.2 665.1 595 657.3 595.8C649.5 596.6 643.1 597.4 633 598.2C622.9 599 608.7 600.2 596.5 600.7C584.3 601.2 572.8 601.2 560 601.3C547.2 601.4 532.4 601.5 520 601.5C507.6 601.5 502.3 601.1 485.6 601.4C468.9 601.7 440.9 602.6 420 603.3C399.1 603.9 376.7 604.9 360 605.3C343.3 605.7 326.7 605.6 320 605.7C313.5 605.9 292.9 606.5 281 606.6C269.1 606.8 256.7 606.7 248.6 606.6C240.5 606.5 236.6 606.4 232.4 606C228.2 605.6 225 604.8 223.5 604.5L221.3 604.4 L154.3 604.4 Z M154.3 129.7C155.4 132 158.5 137.9 161 143.5C163.5 149.1 166.8 156.2 169.2 163C171.6 169.8 174.1 177.5 175.7 184C177.3 190.5 177.4 190.7 178.9 201.8C180.4 212.9 182.5 234.2 184.6 250.8C186.7 267.4 189.5 284.5 191.7 301.4C193.9 318.3 195.6 332.2 197.8 352.1C200 372.1 202.5 396.1 204.9 421.1C207.3 446.1 209.7 471.6 212.4 502.1C215.1 532.6 219.8 587.4 221.3 604.4 M179.2 203.5 L217.8 207.6 M217.8 207.8C221.1 207.8 230 207.2 237.3 207.6C244.6 208 254.2 208.9 261.6 210.3C269 211.8 277 214.6 281.8 216.3C286.6 218.1 288.4 219.4 290.5 220.8C292.6 222.2 293.8 223.9 294.5 224.5C295.4 226 298.2 230.4 300.1 233.6C302 236.8 302.1 236.2 306.1 243.8C310.1 251.4 318.6 270 324.3 279.3C330 288.6 335.9 293.7 340.5 299.6C345.1 305.5 347.3 308.1 351.7 314.8C356.1 321.6 362.1 332.6 366.9 340.1C371.7 347.6 374.9 350.9 380.5 360C386.1 369.1 394 382.9 400.8 394.4C407.6 405.9 415 418.1 421.1 428.9C427.2 439.7 433.2 450.4 437.3 459.3C441.4 468.2 444.4 478.4 445.8 482.2 M445.8 482.2 L485.6 601.3 M217.8 207.6C216.2 208.5 210.5 210.6 208 213C205.5 215.4 204.2 218.1 203 222C201.8 225.9 200.2 230.8 200.9 236.6C201.6 242.4 204.2 249.5 206.9 256.9C209.6 264.3 213.6 273.4 217 281.2C220.4 289 225.4 300 227.1 303.8C228.4 306.4 231.8 314.4 235.2 319.7C238.6 325 243 330.2 247.4 335.9C251.8 341.6 257.2 348.2 261.6 354.1C266 360 269.6 365.4 273.7 371.4C277.8 377.4 282.6 384.8 285.9 390C289.2 395.2 289.5 393.9 293.5 402.8C297.5 411.7 305.5 430.8 309.7 443.3C313.9 455.8 315.8 464.6 318.8 477.8C321.8 491 325.4 509.5 327.9 522.4C330.3 535.3 332.4 547.1 333.5 555C334.6 562.9 334.7 565.7 334.8 570C334.9 574.3 334.6 577.5 334 581C333.4 584.5 332.7 588.1 331.5 591.1C330.3 594.1 328.9 596.5 327 598.8C325.1 601.1 321.2 604 320 605 M306.1 243.8 L408.4 263.3 M227.1 304.2 L300 310.7 L351.7 314.8 M318.8 477.8 L340 478.1 L445.8 482.2 L540 489.8 L640 499.7 L689.4 503.6" fill="none" stroke="#ff9900" stroke-width="2.5" stroke-linejoin="round"/></g>
<path d="M126 45.9 V633.6 H774.3" fill="none" stroke="#000" stroke-width="2"/><path d="M117.5 46.9 H126" stroke="#000" stroke-width="2"/><path d="M117.5 158.7 H126" stroke="#000" stroke-width="2"/><path d="M117.5 270.4 H126" stroke="#000" stroke-width="2"/><path d="M117.5 382.2 H126" stroke="#000" stroke-width="2"/><path d="M117.5 493.9 H126" stroke="#000" stroke-width="2"/><path d="M117.5 605.7 H126" stroke="#000" stroke-width="2"/><path d="M155.1 633.6 V641.6" stroke="#000" stroke-width="2"/><path d="M279.3 633.6 V641.6" stroke="#000" stroke-width="2"/><path d="M403.5 633.6 V641.6" stroke="#000" stroke-width="2"/><path d="M527.7 633.6 V641.6" stroke="#000" stroke-width="2"/><path d="M651.9 633.6 V641.6" stroke="#000" stroke-width="2"/>
<path d="M126 757.2 V1344.8 H782.4" fill="none" stroke="#000" stroke-width="2"/><path d="M117.5 758.2 H126" stroke="#000" stroke-width="2"/><path d="M117.5 869.9 H126" stroke="#000" stroke-width="2"/><path d="M117.5 981.5 H126" stroke="#000" stroke-width="2"/><path d="M117.5 1093.2 H126" stroke="#000" stroke-width="2"/><path d="M117.5 1204.8 H126" stroke="#000" stroke-width="2"/><path d="M117.5 1316.5 H126" stroke="#000" stroke-width="2"/><path d="M155.2 1344.8 V1352.8" stroke="#000" stroke-width="2"/><path d="M279.3 1344.8 V1352.8" stroke="#000" stroke-width="2"/><path d="M403.5 1344.8 V1352.8" stroke="#000" stroke-width="2"/><path d="M527.6 1344.8 V1352.8" stroke="#000" stroke-width="2"/><path d="M651.8 1344.8 V1352.8" stroke="#000" stroke-width="2"/>
<path d="M121.2 1468.2 V2063.4 H782.4" fill="none" stroke="#000" stroke-width="2"/><path d="M112.7 1469.2 H121.2" stroke="#000" stroke-width="2"/><path d="M112.7 1582.5 H121.2" stroke="#000" stroke-width="2"/><path d="M112.7 1695.8 H121.2" stroke="#000" stroke-width="2"/><path d="M112.7 1809.2 H121.2" stroke="#000" stroke-width="2"/><path d="M112.7 1922.5 H121.2" stroke="#000" stroke-width="2"/><path d="M112.7 2035.8 H121.2" stroke="#000" stroke-width="2"/><path d="M151.2 2063.4 V2071.4" stroke="#000" stroke-width="2"/><path d="M277.1 2063.4 V2071.4" stroke="#000" stroke-width="2"/><path d="M403 2063.4 V2071.4" stroke="#000" stroke-width="2"/><path d="M528.8 2063.4 V2071.4" stroke="#000" stroke-width="2"/><path d="M654.7 2063.4 V2071.4" stroke="#000" stroke-width="2"/>
<linearGradient id="cba" x1="0" y1="0" x2="0" y2="1"><stop offset="0.000" stop-color="#440154"/><stop offset="0.020" stop-color="#46085c"/><stop offset="0.040" stop-color="#471063"/><stop offset="0.060" stop-color="#481769"/><stop offset="0.080" stop-color="#481d6f"/><stop offset="0.100" stop-color="#482475"/><stop offset="0.120" stop-color="#472a7a"/><stop offset="0.140" stop-color="#46307e"/><stop offset="0.160" stop-color="#453781"/><stop offset="0.180" stop-color="#433e85"/><stop offset="0.200" stop-color="#414487"/><stop offset="0.220" stop-color="#3e4989"/><stop offset="0.240" stop-color="#3c4f8a"/><stop offset="0.260" stop-color="#3a548c"/><stop offset="0.280" stop-color="#375a8c"/><stop offset="0.300" stop-color="#355f8d"/><stop offset="0.320" stop-color="#32648e"/><stop offset="0.340" stop-color="#306a8e"/><stop offset="0.360" stop-color="#2e6f8e"/><stop offset="0.380" stop-color="#2c738e"/><stop offset="0.400" stop-color="#2a788e"/><stop offset="0.420" stop-color="#287d8e"/><stop offset="0.440" stop-color="#26828e"/><stop offset="0.460" stop-color="#24868e"/><stop offset="0.480" stop-color="#228b8d"/><stop offset="0.500" stop-color="#21918c"/><stop offset="0.520" stop-color="#1f958b"/><stop offset="0.540" stop-color="#1f9a8a"/><stop offset="0.560" stop-color="#1f9f88"/><stop offset="0.580" stop-color="#20a386"/><stop offset="0.600" stop-color="#22a884"/><stop offset="0.620" stop-color="#26ad81"/><stop offset="0.640" stop-color="#2cb17e"/><stop offset="0.660" stop-color="#32b67a"/><stop offset="0.680" stop-color="#3bbb75"/><stop offset="0.700" stop-color="#44bf70"/><stop offset="0.720" stop-color="#4ec36b"/><stop offset="0.740" stop-color="#58c765"/><stop offset="0.760" stop-color="#63cb5f"/><stop offset="0.780" stop-color="#6ece58"/><stop offset="0.800" stop-color="#7ad151"/><stop offset="0.820" stop-color="#86d549"/><stop offset="0.840" stop-color="#95d840"/><stop offset="0.860" stop-color="#a2da37"/><stop offset="0.880" stop-color="#b0dd2f"/><stop offset="0.900" stop-color="#bddf26"/><stop offset="0.920" stop-color="#cae11f"/><stop offset="0.940" stop-color="#d8e219"/><stop offset="0.960" stop-color="#e5e419"/><stop offset="0.980" stop-color="#f1e51d"/><stop offset="1.000" stop-color="#fde725"/></linearGradient><rect x="873.9" y="12.3" width="51.1" height="627.9" fill="url(#cba)"/><path d="M872.9 13.6 H883.9 M915 13.6 H926" stroke="#fff" stroke-width="2.6"/><path d="M872.9 117.8 H883.9 M915 117.8 H926" stroke="#fff" stroke-width="2.6"/><path d="M872.9 222 H883.9 M915 222 H926" stroke="#fff" stroke-width="2.6"/><path d="M872.9 326.2 H883.9 M915 326.2 H926" stroke="#fff" stroke-width="2.6"/><path d="M872.9 430.4 H883.9 M915 430.4 H926" stroke="#fff" stroke-width="2.6"/><path d="M872.9 534.6 H883.9 M915 534.6 H926" stroke="#fff" stroke-width="2.6"/><path d="M872.9 638.8 H883.9 M915 638.8 H926" stroke="#fff" stroke-width="2.6"/>
<linearGradient id="cbb" x1="0" y1="0" x2="0" y2="1"><stop offset="0.000" stop-color="#440154"/><stop offset="0.020" stop-color="#46085c"/><stop offset="0.040" stop-color="#471063"/><stop offset="0.060" stop-color="#481769"/><stop offset="0.080" stop-color="#481d6f"/><stop offset="0.100" stop-color="#482475"/><stop offset="0.120" stop-color="#472a7a"/><stop offset="0.140" stop-color="#46307e"/><stop offset="0.160" stop-color="#453781"/><stop offset="0.180" stop-color="#433e85"/><stop offset="0.200" stop-color="#414487"/><stop offset="0.220" stop-color="#3e4989"/><stop offset="0.240" stop-color="#3c4f8a"/><stop offset="0.260" stop-color="#3a548c"/><stop offset="0.280" stop-color="#375a8c"/><stop offset="0.300" stop-color="#355f8d"/><stop offset="0.320" stop-color="#32648e"/><stop offset="0.340" stop-color="#306a8e"/><stop offset="0.360" stop-color="#2e6f8e"/><stop offset="0.380" stop-color="#2c738e"/><stop offset="0.400" stop-color="#2a788e"/><stop offset="0.420" stop-color="#287d8e"/><stop offset="0.440" stop-color="#26828e"/><stop offset="0.460" stop-color="#24868e"/><stop offset="0.480" stop-color="#228b8d"/><stop offset="0.500" stop-color="#21918c"/><stop offset="0.520" stop-color="#1f958b"/><stop offset="0.540" stop-color="#1f9a8a"/><stop offset="0.560" stop-color="#1f9f88"/><stop offset="0.580" stop-color="#20a386"/><stop offset="0.600" stop-color="#22a884"/><stop offset="0.620" stop-color="#26ad81"/><stop offset="0.640" stop-color="#2cb17e"/><stop offset="0.660" stop-color="#32b67a"/><stop offset="0.680" stop-color="#3bbb75"/><stop offset="0.700" stop-color="#44bf70"/><stop offset="0.720" stop-color="#4ec36b"/><stop offset="0.740" stop-color="#58c765"/><stop offset="0.760" stop-color="#63cb5f"/><stop offset="0.780" stop-color="#6ece58"/><stop offset="0.800" stop-color="#7ad151"/><stop offset="0.820" stop-color="#86d549"/><stop offset="0.840" stop-color="#95d840"/><stop offset="0.860" stop-color="#a2da37"/><stop offset="0.880" stop-color="#b0dd2f"/><stop offset="0.900" stop-color="#bddf26"/><stop offset="0.920" stop-color="#cae11f"/><stop offset="0.940" stop-color="#d8e219"/><stop offset="0.960" stop-color="#e5e419"/><stop offset="0.980" stop-color="#f1e51d"/><stop offset="1.000" stop-color="#fde725"/></linearGradient><rect x="873.9" y="723.1" width="51.1" height="628.8" fill="url(#cbb)"/><path d="M872.9 724.4 H883.9 M915 724.4 H926" stroke="#fff" stroke-width="2.6"/><path d="M872.9 787 H883.9 M915 787 H926" stroke="#fff" stroke-width="2.6"/><path d="M872.9 849.6 H883.9 M915 849.6 H926" stroke="#fff" stroke-width="2.6"/><path d="M872.9 912.3 H883.9 M915 912.3 H926" stroke="#fff" stroke-width="2.6"/><path d="M872.9 974.9 H883.9 M915 974.9 H926" stroke="#fff" stroke-width="2.6"/><path d="M872.9 1037.5 H883.9 M915 1037.5 H926" stroke="#fff" stroke-width="2.6"/><path d="M872.9 1100.2 H883.9 M915 1100.2 H926" stroke="#fff" stroke-width="2.6"/><path d="M872.9 1162.8 H883.9 M915 1162.8 H926" stroke="#fff" stroke-width="2.6"/><path d="M872.9 1225.4 H883.9 M915 1225.4 H926" stroke="#fff" stroke-width="2.6"/><path d="M872.9 1288 H883.9 M915 1288 H926" stroke="#fff" stroke-width="2.6"/><path d="M872.9 1350.7 H883.9 M915 1350.7 H926" stroke="#fff" stroke-width="2.6"/>
<linearGradient id="cbc" x1="0" y1="0" x2="0" y2="1"><stop offset="0.000" stop-color="#440154"/><stop offset="0.020" stop-color="#46085c"/><stop offset="0.040" stop-color="#471063"/><stop offset="0.060" stop-color="#481769"/><stop offset="0.080" stop-color="#481d6f"/><stop offset="0.100" stop-color="#482475"/><stop offset="0.120" stop-color="#472a7a"/><stop offset="0.140" stop-color="#46307e"/><stop offset="0.160" stop-color="#453781"/><stop offset="0.180" stop-color="#433e85"/><stop offset="0.200" stop-color="#414487"/><stop offset="0.220" stop-color="#3e4989"/><stop offset="0.240" stop-color="#3c4f8a"/><stop offset="0.260" stop-color="#3a548c"/><stop offset="0.280" stop-color="#375a8c"/><stop offset="0.300" stop-color="#355f8d"/><stop offset="0.320" stop-color="#32648e"/><stop offset="0.340" stop-color="#306a8e"/><stop offset="0.360" stop-color="#2e6f8e"/><stop offset="0.380" stop-color="#2c738e"/><stop offset="0.400" stop-color="#2a788e"/><stop offset="0.420" stop-color="#287d8e"/><stop offset="0.440" stop-color="#26828e"/><stop offset="0.460" stop-color="#24868e"/><stop offset="0.480" stop-color="#228b8d"/><stop offset="0.500" stop-color="#21918c"/><stop offset="0.520" stop-color="#1f958b"/><stop offset="0.540" stop-color="#1f9a8a"/><stop offset="0.560" stop-color="#1f9f88"/><stop offset="0.580" stop-color="#20a386"/><stop offset="0.600" stop-color="#22a884"/><stop offset="0.620" stop-color="#26ad81"/><stop offset="0.640" stop-color="#2cb17e"/><stop offset="0.660" stop-color="#32b67a"/><stop offset="0.680" stop-color="#3bbb75"/><stop offset="0.700" stop-color="#44bf70"/><stop offset="0.720" stop-color="#4ec36b"/><stop offset="0.740" stop-color="#58c765"/><stop offset="0.760" stop-color="#63cb5f"/><stop offset="0.780" stop-color="#6ece58"/><stop offset="0.800" stop-color="#7ad151"/><stop offset="0.820" stop-color="#86d549"/><stop offset="0.840" stop-color="#95d840"/><stop offset="0.860" stop-color="#a2da37"/><stop offset="0.880" stop-color="#b0dd2f"/><stop offset="0.900" stop-color="#bddf26"/><stop offset="0.920" stop-color="#cae11f"/><stop offset="0.940" stop-color="#d8e219"/><stop offset="0.960" stop-color="#e5e419"/><stop offset="0.980" stop-color="#f1e51d"/><stop offset="1.000" stop-color="#fde725"/></linearGradient><rect x="878" y="1438.8" width="51.5" height="627.4" fill="url(#cbc)"/><path d="M877 1440.1 H888 M919.5 1440.1 H930.5" stroke="#fff" stroke-width="2.6"/><path d="M877 1502.6 H888 M919.5 1502.6 H930.5" stroke="#fff" stroke-width="2.6"/><path d="M877 1565.1 H888 M919.5 1565.1 H930.5" stroke="#fff" stroke-width="2.6"/><path d="M877 1627.5 H888 M919.5 1627.5 H930.5" stroke="#fff" stroke-width="2.6"/><path d="M877 1690 H888 M919.5 1690 H930.5" stroke="#fff" stroke-width="2.6"/><path d="M877 1752.5 H888 M919.5 1752.5 H930.5" stroke="#fff" stroke-width="2.6"/><path d="M877 1815 H888 M919.5 1815 H930.5" stroke="#fff" stroke-width="2.6"/><path d="M877 1877.5 H888 M919.5 1877.5 H930.5" stroke="#fff" stroke-width="2.6"/><path d="M877 1939.9 H888 M919.5 1939.9 H930.5" stroke="#fff" stroke-width="2.6"/><path d="M877 2002.4 H888 M919.5 2002.4 H930.5" stroke="#fff" stroke-width="2.6"/><path d="M877 2064.9 H888 M919.5 2064.9 H930.5" stroke="#fff" stroke-width="2.6"/>
<defs><clipPath id="cclip"><path d="M152.3 1511.5 L229.6 1536.4 L404.1 1694 L513.5 1742.7 L530.5 1768.6 L554.8 1810.8 L574.3 1849.7 L593.7 1895.1 L613.2 1950.2 L626.2 1995.6 L633.1 2023.1 L633.5 2033.7 L152.3 2033.7 Z"/></clipPath></defs>
<g clip-path="url(#cclip)" shape-rendering="crispEdges"><path d="M152.3 1511.5 L229.6 1536.4 L404.1 1694 L513.5 1742.7 L530.5 1768.6 L554.8 1810.8 L574.3 1849.7 L593.7 1895.1 L613.2 1950.2 L626.2 1995.6 L633.1 2023.1 L633.5 2033.7 L152.3 2033.7 Z" fill="#feed5b"/><path d="M152.3 1514 A627.6 675.8 0 0 1 634.9 2033.6 L152.3 2033.6 Z" fill="#feed5b"/><path d="M152.3 1519 A628.6 676.9 0 0 1 630.2 2033.6 L152.3 2033.6 Z" fill="#fced5a"/><path d="M152.3 1524.1 A629.6 678 0 0 1 625.5 2033.6 L152.3 2033.6 Z" fill="#f8ec57"/><path d="M152.3 1529.1 A630.7 679.1 0 0 1 620.8 2033.6 L152.3 2033.6 Z" fill="#f6ec56"/><path d="M152.3 1534.1 A631.8 680.3 0 0 1 616.1 2033.6 L152.3 2033.6 Z" fill="#f5ec55"/><path d="M152.3 1539.2 A632.9 681.5 0 0 1 611.4 2033.6 L152.3 2033.6 Z" fill="#f1eb54"/><path d="M152.3 1544.2 A634.1 682.8 0 0 1 606.7 2033.6 L152.3 2033.6 Z" fill="#efeb53"/><path d="M152.3 1549.3 A635.3 684.1 0 0 1 602.1 2033.6 L152.3 2033.6 Z" fill="#edeb53"/><path d="M152.3 1554.3 A636.5 685.4 0 0 1 597.4 2033.6 L152.3 2033.6 Z" fill="#ebeb52"/><path d="M152.3 1559.4 A637.7 686.8 0 0 1 592.7 2033.6 L152.3 2033.6 Z" fill="#e7ea52"/><path d="M152.3 1564.4 A639 688.1 0 0 1 588 2033.6 L152.3 2033.6 Z" fill="#e5ea52"/><path d="M152.3 1569.5 A642 691.3 0 0 1 583.3 2033.6 L152.3 2033.6 Z" fill="#e3ea52"/><path d="M152.3 1574.5 A645 694.5 0 0 1 578.6 2033.6 L152.3 2033.6 Z" fill="#e1e953"/><path d="M152.3 1579.5 A648 697.8 0 0 1 574 2033.6 L152.3 2033.6 Z" fill="#dee954"/><path d="M152.3 1584.6 A651.1 701.1 0 0 1 569.3 2033.6 L152.3 2033.6 Z" fill="#dce955"/><path d="M152.3 1589.6 A654.2 704.5 0 0 1 564.6 2033.6 L152.3 2033.6 Z" fill="#dae856"/><path d="M152.3 1594.7 A657.4 707.9 0 0 1 559.9 2033.6 L152.3 2033.6 Z" fill="#d6e858"/><path d="M152.3 1599.7 A660.6 711.4 0 0 1 555.2 2033.6 L152.3 2033.6 Z" fill="#d4e859"/><path d="M152.3 1604.8 A663.9 714.9 0 0 1 550.5 2033.6 L152.3 2033.6 Z" fill="#d2e75a"/><path d="M152.3 1609.8 A667.2 718.4 0 0 1 545.8 2033.6 L152.3 2033.6 Z" fill="#d0e75b"/><path d="M152.3 1614.9 A670.5 722 0 0 1 541.2 2033.6 L152.3 2033.6 Z" fill="#cce75e"/><path d="M152.3 1619.9 A676.1 728.1 0 0 1 536.5 2033.6 L152.3 2033.6 Z" fill="#cae65f"/><path d="M152.3 1625 A681.8 734.2 0 0 1 531.8 2033.6 L152.3 2033.6 Z" fill="#c8e660"/><path d="M152.3 1630 A687.5 740.4 0 0 1 527.1 2033.6 L152.3 2033.6 Z" fill="#c4e563"/><path d="M152.3 1635 A693.3 746.6 0 0 1 522.4 2033.6 L152.3 2033.6 Z" fill="#c2e564"/><path d="M152.3 1640.1 A699.1 752.9 0 0 1 517.7 2033.6 L152.3 2033.6 Z" fill="#c0e565"/><path d="M152.3 1645.1 A705 759.2 0 0 1 513 2033.6 L152.3 2033.6 Z" fill="#bee467"/><path d="M152.3 1650.2 A711 765.6 0 0 1 508.4 2033.6 L152.3 2033.6 Z" fill="#bae469"/><path d="M152.3 1655.2 A716.9 772 0 0 1 503.7 2033.6 L152.3 2033.6 Z" fill="#b8e36a"/><path d="M152.3 1660.3 A722.9 778.5 0 0 1 499 2033.6 L152.3 2033.6 Z" fill="#b6e36c"/><path d="M152.3 1665.3 A729 785 0 0 1 494.3 2033.6 L152.3 2033.6 Z" fill="#b2e26e"/><path d="M152.3 1670.4 A730.7 786.8 0 0 1 489.6 2033.6 L152.3 2033.6 Z" fill="#b0e270"/><path d="M152.3 1675.4 A732.4 788.6 0 0 1 484.9 2033.6 L152.3 2033.6 Z" fill="#aee171"/><path d="M152.3 1680.4 A734.1 790.5 0 0 1 480.3 2033.6 L152.3 2033.6 Z" fill="#ace172"/><path d="M152.3 1685.5 A735.8 792.3 0 0 1 475.6 2033.6 L152.3 2033.6 Z" fill="#a8e074"/><path d="M152.3 1690.5 A737.6 794.2 0 0 1 470.9 2033.6 L152.3 2033.6 Z" fill="#a6e076"/><path d="M152.3 1695.6 A739.3 796.1 0 0 1 466.2 2033.6 L152.3 2033.6 Z" fill="#a4df77"/><path d="M152.3 1700.6 A741.1 798.1 0 0 1 461.5 2033.6 L152.3 2033.6 Z" fill="#a2df78"/><path d="M152.3 1705.7 A742.9 800 0 0 1 456.8 2033.6 L152.3 2033.6 Z" fill="#9fde7a"/><path d="M152.3 1710.7 A744.8 802 0 0 1 452.1 2033.6 L152.3 2033.6 Z" fill="#9ddd7b"/><path d="M152.3 1715.8 A746.7 804 0 0 1 447.5 2033.6 L152.3 2033.6 Z" fill="#9bdd7d"/><path d="M152.3 1720.8 A749.1 806.7 0 0 1 442.8 2033.6 L152.3 2033.6 Z" fill="#97dc7f"/><path d="M152.3 1725.9 A751.6 809.3 0 0 1 438.1 2033.6 L152.3 2033.6 Z" fill="#96db80"/><path d="M152.3 1730.9 A754.1 812 0 0 1 433.4 2033.6 L152.3 2033.6 Z" fill="#94db81"/><path d="M152.3 1735.9 A756.6 814.8 0 0 1 428.7 2033.6 L152.3 2033.6 Z" fill="#92da82"/><path d="M152.3 1741 A759.2 817.5 0 0 1 424 2033.6 L152.3 2033.6 Z" fill="#8fd984"/><path d="M152.3 1746 A761.7 820.3 0 0 1 419.3 2033.6 L152.3 2033.6 Z" fill="#8dd985"/><path d="M152.3 1751.1 A764.3 823.1 0 0 1 414.7 2033.6 L152.3 2033.6 Z" fill="#8bd886"/><path d="M152.3 1756.1 A766.9 825.9 0 0 1 410 2033.6 L152.3 2033.6 Z" fill="#88d788"/><path d="M152.3 1761.2 A769.6 828.7 0 0 1 405.3 2033.6 L152.3 2033.6 Z" fill="#86d789"/><path d="M152.3 1766.2 A772.2 831.6 0 0 1 400.6 2033.6 L152.3 2033.6 Z" fill="#85d68a"/><path d="M152.3 1771.3 A773.4 832.9 0 0 1 395.9 2033.6 L152.3 2033.6 Z" fill="#83d68b"/><path d="M152.3 1776.3 A774.6 834.2 0 0 1 391.2 2033.6 L152.3 2033.6 Z" fill="#80d48d"/><path d="M152.3 1781.3 A775.9 835.5 0 0 1 386.6 2033.6 L152.3 2033.6 Z" fill="#7ed48e"/><path d="M152.3 1786.4 A777.1 836.8 0 0 1 381.9 2033.6 L152.3 2033.6 Z" fill="#7dd38e"/><path d="M152.3 1791.4 A778.4 838.2 0 0 1 377.2 2033.6 L152.3 2033.6 Z" fill="#7ad290"/><path d="M152.3 1796.5 A779.6 839.5 0 0 1 372.5 2033.6 L152.3 2033.6 Z" fill="#78d191"/><path d="M152.3 1801.5 A780.9 840.9 0 0 1 367.8 2033.6 L152.3 2033.6 Z" fill="#77d192"/><path d="M152.3 1806.6 A782.2 842.4 0 0 1 363.1 2033.6 L152.3 2033.6 Z" fill="#76d092"/><path d="M152.3 1811.6 A783.6 843.8 0 0 1 358.4 2033.6 L152.3 2033.6 Z" fill="#73cf94"/><path d="M152.3 1816.7 A784.9 845.2 0 0 1 353.8 2033.6 L152.3 2033.6 Z" fill="#71ce95"/><path d="M152.3 1821.7 A777.8 837.6 0 0 1 349.1 2033.6 L152.3 2033.6 Z" fill="#70ce95"/><path d="M152.3 1826.8 A770.7 829.9 0 0 1 344.4 2033.6 L152.3 2033.6 Z" fill="#6fcd96"/><path d="M152.3 1831.8 A763.6 822.3 0 0 1 339.7 2033.6 L152.3 2033.6 Z" fill="#6ccc98"/><path d="M152.3 1836.8 A756.5 814.6 0 0 1 335 2033.6 L152.3 2033.6 Z" fill="#6bcb98"/><path d="M152.3 1841.9 A749.4 807 0 0 1 330.3 2033.6 L152.3 2033.6 Z" fill="#6acb99"/><path d="M152.3 1846.9 A742.3 799.4 0 0 1 325.6 2033.6 L152.3 2033.6 Z" fill="#68c99a"/><path d="M152.3 1852 A735.2 791.7 0 0 1 321 2033.6 L152.3 2033.6 Z" fill="#66c99b"/><path d="M152.3 1857 A728.2 784.1 0 0 1 316.3 2033.6 L152.3 2033.6 Z" fill="#65c89b"/><path d="M152.3 1862.1 A721.1 776.5 0 0 1 311.6 2033.6 L152.3 2033.6 Z" fill="#64c79c"/><path d="M152.3 1867.1 A714 768.9 0 0 1 306.9 2033.6 L152.3 2033.6 Z" fill="#62c69d"/><path d="M152.3 1872.2 A707 761.3 0 0 1 302.2 2033.6 L152.3 2033.6 Z" fill="#61c59e"/><path d="M152.3 1877.2 A699.9 753.7 0 0 1 297.5 2033.6 L152.3 2033.6 Z" fill="#60c59e"/><path d="M152.3 1882.2 A692.9 746.2 0 0 1 292.9 2033.6 L152.3 2033.6 Z" fill="#5fc39f"/><path d="M152.3 1887.3 A685.9 738.6 0 0 1 288.2 2033.6 L152.3 2033.6 Z" fill="#5ec3a0"/><path d="M152.3 1892.3 A678.9 731 0 0 1 283.5 2033.6 L152.3 2033.6 Z" fill="#5dc2a0"/><path d="M152.3 1897.4 A671.9 723.5 0 0 1 278.8 2033.6 L152.3 2033.6 Z" fill="#5cc1a1"/><path d="M152.3 1902.4 A664.8 715.9 0 0 1 274.1 2033.6 L152.3 2033.6 Z" fill="#5bc0a2"/><path d="M152.3 1907.5 A657.9 708.4 0 0 1 269.4 2033.6 L152.3 2033.6 Z" fill="#5bbfa2"/><path d="M152.3 1912.5 A650.9 700.9 0 0 1 264.7 2033.6 L152.3 2033.6 Z" fill="#5abea2"/><path d="M152.3 1917.6 A643.9 693.4 0 0 1 260.1 2033.6 L152.3 2033.6 Z" fill="#59bda3"/><path d="M152.3 1922.6 A640.2 689.4 0 0 1 255.4 2033.6 L152.3 2033.6 Z" fill="#59bca4"/><path d="M152.3 1927.7 A636.6 685.5 0 0 1 250.7 2033.6 L152.3 2033.6 Z" fill="#58bca4"/><path d="M152.3 1932.7 A632.9 681.5 0 0 1 246 2033.6 L152.3 2033.6 Z" fill="#58bba4"/><path d="M152.3 1937.7 A629.3 677.6 0 0 1 241.3 2033.6 L152.3 2033.6 Z" fill="#57baa5"/><path d="M152.3 1942.8 A625.7 673.7 0 0 1 236.6 2033.6 L152.3 2033.6 Z" fill="#57b9a5"/><path d="M152.3 1947.8 A622 669.8 0 0 1 231.9 2033.6 L152.3 2033.6 Z" fill="#57b8a5"/><path d="M152.3 1952.9 A618.5 666 0 0 1 227.3 2033.6 L152.3 2033.6 Z" fill="#57b7a6"/><path d="M152.3 1957.9 A614.9 662.1 0 0 1 222.6 2033.6 L152.3 2033.6 Z" fill="#57b6a6"/><path d="M152.3 1963 A611.3 658.3 0 0 1 217.9 2033.6 L152.3 2033.6 Z" fill="#57b5a7"/><path d="M152.3 1968 A607.8 654.5 0 0 1 213.2 2033.6 L152.3 2033.6 Z" fill="#57b5a7"/><path d="M152.3 1973.1 A604.2 650.7 0 0 1 208.5 2033.6 L152.3 2033.6 Z" fill="#57b3a7"/><path d="M152.3 1978.1 A600.7 646.9 0 0 1 203.8 2033.6 L152.3 2033.6 Z" fill="#57b3a8"/><path d="M152.3 1983.1 A597.2 643.1 0 0 1 199.2 2033.6 L152.3 2033.6 Z" fill="#57b2a8"/><path d="M152.3 1988.2 A593.7 639.4 0 0 1 194.5 2033.6 L152.3 2033.6 Z" fill="#57b1a8"/><path d="M152.3 1993.2 A590.3 635.6 0 0 1 189.8 2033.6 L152.3 2033.6 Z" fill="#57b0a8"/><path d="M152.3 1998.3 A586.8 631.9 0 0 1 185.1 2033.6 L152.3 2033.6 Z" fill="#57afa8"/><path d="M152.3 2003.3 A583.4 628.2 0 0 1 180.4 2033.6 L152.3 2033.6 Z" fill="#58aea9"/><path d="M152.3 2008.4 A580 624.5 0 0 1 175.7 2033.6 L152.3 2033.6 Z" fill="#58ada9"/><path d="M152.3 2013.4 A576.6 620.9 0 0 1 171 2033.6 L152.3 2033.6 Z" fill="#58aca9"/><path d="M152.3 2018.5 A573.2 617.2 0 0 1 166.4 2033.6 L152.3 2033.6 Z" fill="#58aba9"/><path d="M152.3 2023.5 A569.8 613.6 0 0 1 161.7 2033.6 L152.3 2033.6 Z" fill="#59aba9"/><path d="M152.3 2028.6 A566.5 610 0 0 1 157 2033.6 L152.3 2033.6 Z" fill="#59a9aa"/></g>
<g clip-path="url(#cclip)"><path d="M152.3 1564.4 A639 688.1 0 0 1 588 2033.6 M152.3 1614.9 A670.5 722 0 0 1 541.2 2033.6 M152.3 1665.3 A729 785 0 0 1 494.3 2033.6 M152.3 1715.8 A746.7 804 0 0 1 447.5 2033.6 M152.3 1766.2 A772.2 831.6 0 0 1 400.6 2033.6 M152.3 1816.7 A784.9 845.2 0 0 1 353.8 2033.6 M152.3 1867.1 A714 768.9 0 0 1 306.9 2033.6 M152.3 1917.6 A643.9 693.4 0 0 1 260.1 2033.6 M152.3 1968 A607.8 654.5 0 0 1 213.2 2033.6 M152.3 2018.5 A573.2 617.2 0 0 1 166.4 2033.6" fill="none" stroke="#000" stroke-width="2.0"/></g>
<text x="4.00" y="27.70" text-anchor="start" font-size="34" font-weight="bold" stroke="#000" stroke-width="1.1" textLength="18.71" lengthAdjust="spacingAndGlyphs">a</text>
<text x="3.00" y="739.20" text-anchor="start" font-size="34" font-weight="bold" stroke="#000" stroke-width="1.1" textLength="23.47" lengthAdjust="spacingAndGlyphs">b</text>
<text x="4.00" y="1450.10" text-anchor="start" font-size="34" font-weight="bold" stroke="#000" stroke-width="1.1" textLength="21.11" lengthAdjust="spacingAndGlyphs">c</text>
<text x="490.00" y="43.40" text-anchor="start" font-size="29" textLength="124.52" lengthAdjust="spacingAndGlyphs">1. Tundra</text>
<text x="491.00" y="78.30" text-anchor="start" font-size="29" textLength="198.36" lengthAdjust="spacingAndGlyphs">2. Boreal forest</text>
<text x="491.00" y="113.20" text-anchor="start" font-size="29" textLength="254.91" lengthAdjust="spacingAndGlyphs">3. Temperate forest</text>
<text x="492.00" y="148.10" text-anchor="start" font-size="29" textLength="307.90" lengthAdjust="spacingAndGlyphs">4. Temperate wet forest</text>
<text x="491.00" y="183.00" text-anchor="start" font-size="29" textLength="274.05" lengthAdjust="spacingAndGlyphs">5. Tropical wet forest</text>
<text x="491.00" y="217.90" text-anchor="start" font-size="29" textLength="269.20" lengthAdjust="spacingAndGlyphs">6. Tropical dry forest</text>
<text x="491.00" y="252.80" text-anchor="start" font-size="29" textLength="301.86" lengthAdjust="spacingAndGlyphs">7. Woodland/grassland</text>
<text x="491.00" y="287.70" text-anchor="start" font-size="29" textLength="116.36" lengthAdjust="spacingAndGlyphs">8. Desert</text>
<text x="112.00" y="55.90" text-anchor="end" font-size="29">−20</text>
<text x="112.00" y="167.66" text-anchor="end" font-size="29">−10</text>
<text x="112.00" y="279.42" text-anchor="end" font-size="29">0</text>
<text x="112.00" y="391.18" text-anchor="end" font-size="29">10</text>
<text x="112.00" y="502.94" text-anchor="end" font-size="29">20</text>
<text x="112.00" y="614.70" text-anchor="end" font-size="29">30</text>
<text x="154.50" y="674.40" text-anchor="middle" font-size="29">0</text>
<text x="275.50" y="674.40" text-anchor="middle" font-size="29">1,000</text>
<text x="400.50" y="674.40" text-anchor="middle" font-size="29">2,000</text>
<text x="523.00" y="674.40" text-anchor="middle" font-size="29">3,000</text>
<text x="646.00" y="674.40" text-anchor="middle" font-size="29">4,000</text>
<text x="255.00" y="714.70" text-anchor="start" font-size="29" textLength="393.95" lengthAdjust="spacingAndGlyphs">Total yearly precipitation (mm)</text>
<text transform="translate(24.30,532.00) rotate(-90)" text-anchor="start" font-size="29" textLength="380.75" lengthAdjust="spacingAndGlyphs">Mean yearly temperature (°C)</text>
<text x="112.00" y="767.20" text-anchor="end" font-size="29">−20</text>
<text x="112.00" y="878.86" text-anchor="end" font-size="29">−10</text>
<text x="112.00" y="990.52" text-anchor="end" font-size="29">0</text>
<text x="112.00" y="1102.18" text-anchor="end" font-size="29">10</text>
<text x="112.00" y="1213.84" text-anchor="end" font-size="29">20</text>
<text x="112.00" y="1325.50" text-anchor="end" font-size="29">30</text>
<text x="154.50" y="1385.40" text-anchor="middle" font-size="29">0</text>
<text x="275.50" y="1385.40" text-anchor="middle" font-size="29">1,000</text>
<text x="400.50" y="1385.40" text-anchor="middle" font-size="29">2,000</text>
<text x="523.00" y="1385.40" text-anchor="middle" font-size="29">3,000</text>
<text x="646.00" y="1385.40" text-anchor="middle" font-size="29">4,000</text>
<text x="263.00" y="1425.50" text-anchor="start" font-size="29" textLength="394.45" lengthAdjust="spacingAndGlyphs">Total yearly precipitation (mm)</text>
<text transform="translate(24.30,1228.00) rotate(-90)" text-anchor="start" font-size="29" textLength="380.75" lengthAdjust="spacingAndGlyphs">Mean yearly temperature (°C)</text>
<text x="107.80" y="1478.20" text-anchor="end" font-size="29">−20</text>
<text x="107.80" y="1591.52" text-anchor="end" font-size="29">−10</text>
<text x="107.80" y="1704.84" text-anchor="end" font-size="29">0</text>
<text x="107.80" y="1818.16" text-anchor="end" font-size="29">10</text>
<text x="107.80" y="1931.48" text-anchor="end" font-size="29">20</text>
<text x="107.80" y="2044.80" text-anchor="end" font-size="29">30</text>
<text x="151.50" y="2102.60" text-anchor="middle" font-size="29">0</text>
<text x="276.00" y="2102.60" text-anchor="middle" font-size="29">1,000</text>
<text x="401.00" y="2102.60" text-anchor="middle" font-size="29">2,000</text>
<text x="525.00" y="2102.60" text-anchor="middle" font-size="29">3,000</text>
<text x="651.00" y="2102.60" text-anchor="middle" font-size="29">4,000</text>
<text x="263.00" y="2147.80" text-anchor="start" font-size="29" textLength="394.45" lengthAdjust="spacingAndGlyphs">Total yearly precipitation (mm)</text>
<text transform="translate(24.30,1965.00) rotate(-90)" text-anchor="start" font-size="29" textLength="381.35" lengthAdjust="spacingAndGlyphs">Mean yearly temperature (°C)</text>
<text x="933.00" y="24.10" text-anchor="start" font-size="29">25</text>
<text x="933.00" y="128.30" text-anchor="start" font-size="29">23</text>
<text x="933.00" y="232.50" text-anchor="start" font-size="29">21</text>
<text x="933.00" y="336.70" text-anchor="start" font-size="29">19</text>
<text x="933.00" y="440.90" text-anchor="start" font-size="29">17</text>
<text x="933.00" y="545.10" text-anchor="start" font-size="29">15</text>
<text x="933.00" y="649.30" text-anchor="start" font-size="29">13</text>
<text x="937.00" y="734.90" text-anchor="start" font-size="29">100</text>
<text x="937.00" y="797.52" text-anchor="start" font-size="29">90</text>
<text x="937.00" y="860.15" text-anchor="start" font-size="29">80</text>
<text x="937.00" y="922.77" text-anchor="start" font-size="29">70</text>
<text x="937.00" y="985.40" text-anchor="start" font-size="29">60</text>
<text x="937.00" y="1048.03" text-anchor="start" font-size="29">50</text>
<text x="937.00" y="1110.65" text-anchor="start" font-size="29">40</text>
<text x="937.00" y="1173.28" text-anchor="start" font-size="29">30</text>
<text x="937.00" y="1235.90" text-anchor="start" font-size="29">20</text>
<text x="937.00" y="1298.53" text-anchor="start" font-size="29">10</text>
<text x="937.00" y="1361.15" text-anchor="start" font-size="29">0</text>
<text x="937.00" y="1450.60" text-anchor="start" font-size="29">100</text>
<text x="937.00" y="1513.08" text-anchor="start" font-size="29">90</text>
<text x="937.00" y="1575.56" text-anchor="start" font-size="29">80</text>
<text x="937.00" y="1638.04" text-anchor="start" font-size="29">70</text>
<text x="937.00" y="1700.52" text-anchor="start" font-size="29">60</text>
<text x="937.00" y="1763.00" text-anchor="start" font-size="29">50</text>
<text x="937.00" y="1825.48" text-anchor="start" font-size="29">40</text>
<text x="937.00" y="1887.96" text-anchor="start" font-size="29">30</text>
<text x="937.00" y="1950.44" text-anchor="start" font-size="29">20</text>
<text x="937.00" y="2012.92" text-anchor="start" font-size="29">10</text>
<text x="937.00" y="2075.40" text-anchor="start" font-size="29">0</text>
<text transform="translate(850.30,588.00) rotate(-90)" text-anchor="start" font-size="29" textLength="512.52" lengthAdjust="spacingAndGlyphs">Proportion of annuals among herbs (%)</text>
<text transform="translate(848.10,1312.00) rotate(-90)" text-anchor="start" font-size="29" textLength="513.33" lengthAdjust="spacingAndGlyphs">Proportion of annuals among herbs (%)</text>
<text transform="translate(848.10,2022.00) rotate(-90)" text-anchor="start" font-size="29" textLength="513.33" lengthAdjust="spacingAndGlyphs">Proportion of annuals among herbs (%)</text>
<text x="346.00" y="1509.80" text-anchor="start" font-size="29" textLength="220.86" lengthAdjust="spacingAndGlyphs">Model: <tspan font-style="italic">R</tspan><tspan font-size="19" dy="-10.5">2</tspan><tspan dy="10.5"> = 0.48</tspan></text>
</svg></body></html>
